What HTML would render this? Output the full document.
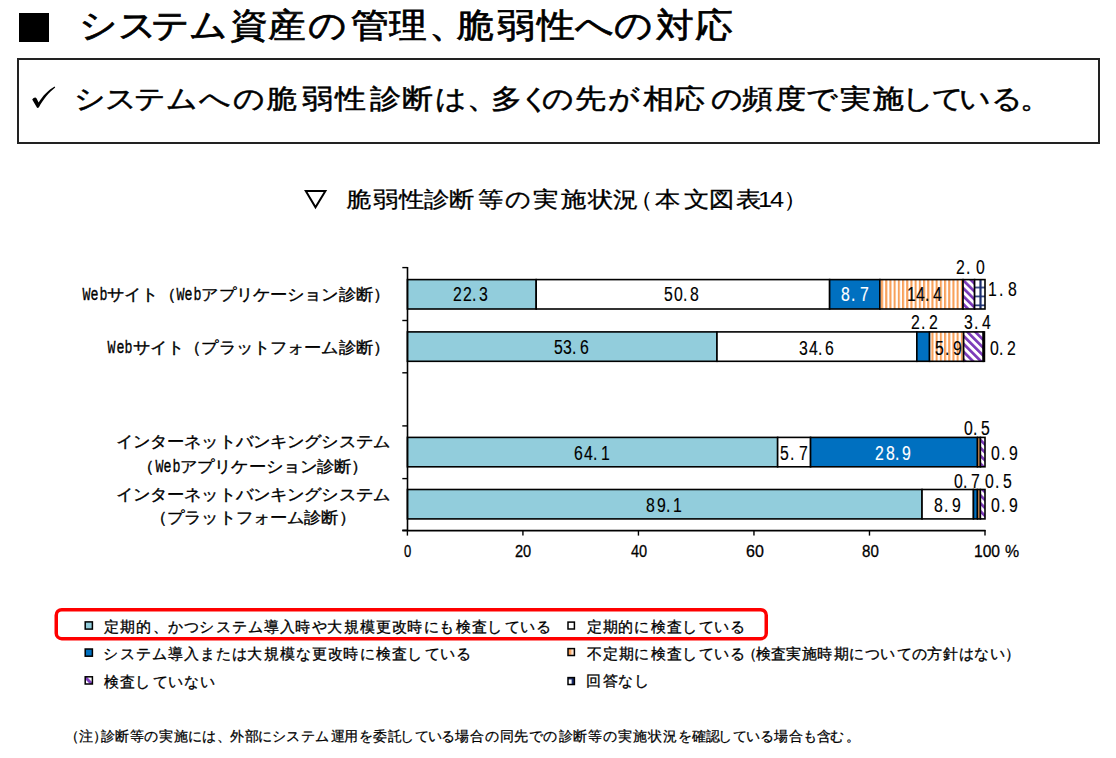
<!DOCTYPE html>
<html lang="ja">
<head>
<meta charset="utf-8">
<style>
html,body{margin:0;padding:0;background:#fff;}
body{width:1116px;height:758px;position:relative;overflow:hidden;font-family:"Liberation Sans",sans-serif;color:#000;}
</style>
</head>
<body>
<svg style="position:absolute;left:0;top:0" width="1116" height="758" viewBox="0 0 1116 758">
<defs>
<pattern id="pOr" patternUnits="userSpaceOnUse" x="881" y="0" width="4.2" height="10">
<rect width="4.2" height="10" fill="#fff"/><rect x="0" width="2.1" height="10" fill="#F8A15B"/>
</pattern>
<pattern id="pPu" patternUnits="userSpaceOnUse" width="5.6" height="10" patternTransform="rotate(-45)">
<rect width="5.6" height="10" fill="#fff"/><rect x="0" width="2.7" height="10" fill="#7A38B8"/>
</pattern>
<pattern id="pNv" patternUnits="userSpaceOnUse" x="976" y="279.5" width="9" height="8.9">
<rect width="9" height="8.9" fill="#fff"/><rect x="3.4" width="2.2" height="8.9" fill="#1C2E70"/><rect y="7.3" width="9" height="2.2" fill="#1C2E70"/>
</pattern>
<pattern id="lPu" patternUnits="userSpaceOnUse" x="84" y="676" width="8" height="8">
<rect width="8" height="8" fill="#fff"/><path d="M0,0 L8,8" stroke="#7F3FBF" stroke-width="3"/>
</pattern>
<pattern id="lNv" patternUnits="userSpaceOnUse" x="568" y="677.6" width="6.4" height="6.9">
<rect width="6.4" height="6.9" fill="#fff"/><rect x="3.6" width="2.8" height="6.9" fill="#1C2E70"/><rect y="0" width="6.4" height="1.8" fill="#1C2E70"/>
</pattern>
<pattern id="lOr" patternUnits="userSpaceOnUse" x="568" y="648.6" width="6.4" height="6.9">
<rect width="6.4" height="6.9" fill="#FDE3CF"/><rect x="0" width="3.2" height="6.9" fill="#F8A15B"/>
</pattern>
</defs>
<!-- title square -->
<rect x="19" y="13" width="30" height="29" fill="#000"/>
<!-- lead box -->
<rect x="18" y="59" width="1081" height="84" fill="none" stroke="#222" stroke-width="2"/>
<!-- check mark -->
<path d="M32.2,99.6 C33.6,97.6 35.6,96.8 36.6,98.6 L38.6,102.6 C42.4,96 48.4,90 54.6,86.4 L55.2,87.6 C49,92.4 43,99.6 38.8,107.6 L37.2,107.9 Z" fill="#000"/>
<!-- triangle -->
<polygon points="305.8,191 325.4,191 315.5,207.3" fill="none" stroke="#000" stroke-width="2"/>
<g stroke="#000" stroke-width="1.6">
<rect x="407.40" y="279.60" width="128.80" height="29.40" fill="#92CDDC"/>
<rect x="536.20" y="279.60" width="293.42" height="29.40" fill="#fff"/>
<rect x="829.63" y="279.60" width="50.25" height="29.40" fill="#0070C0"/>
<rect x="879.88" y="279.60" width="83.17" height="29.40" fill="url(#pOr)"/>
<rect x="963.05" y="279.60" width="11.55" height="29.40" fill="url(#pPu)"/>
<rect x="974.60" y="279.60" width="10.40" height="29.40" fill="url(#pNv)"/>
<rect x="407.40" y="331.90" width="309.59" height="29.40" fill="#92CDDC"/>
<rect x="716.99" y="331.90" width="199.85" height="29.40" fill="#fff"/>
<rect x="916.84" y="331.90" width="12.71" height="29.40" fill="#0070C0"/>
<rect x="929.55" y="331.90" width="34.08" height="29.40" fill="url(#pOr)"/>
<rect x="963.63" y="331.90" width="19.64" height="29.40" fill="url(#pPu)"/>
<rect x="983.27" y="331.90" width="1.16" height="29.40" fill="url(#pNv)"/>
<rect x="407.40" y="437.40" width="370.24" height="29.40" fill="#92CDDC"/>
<rect x="777.64" y="437.40" width="32.92" height="29.40" fill="#fff"/>
<rect x="810.56" y="437.40" width="166.93" height="29.40" fill="#0070C0"/>
<rect x="977.49" y="437.40" width="2.89" height="29.40" fill="url(#pOr)"/>
<rect x="980.38" y="437.40" width="4.62" height="29.40" fill="url(#pPu)"/>
<rect x="407.40" y="489.50" width="514.64" height="29.40" fill="#92CDDC"/>
<rect x="922.04" y="489.50" width="51.41" height="29.40" fill="#fff"/>
<rect x="973.45" y="489.50" width="4.04" height="29.40" fill="#0070C0"/>
<rect x="977.49" y="489.50" width="2.89" height="29.40" fill="url(#pOr)"/>
<rect x="980.38" y="489.50" width="4.62" height="29.40" fill="url(#pPu)"/>
</g>
<g stroke="#000" stroke-width="1.6" fill="none">
<line x1="407.5" y1="267" x2="407.5" y2="531"/>
<line x1="402.3" y1="530.6" x2="985.5" y2="530.6"/>
</g>
<g stroke="#000" stroke-width="1.4">
<line x1="402.3" x2="407.5" y1="267.6" y2="267.6"/>
<line x1="402.3" x2="407.5" y1="320.5" y2="320.5"/>
<line x1="402.3" x2="407.5" y1="372.8" y2="372.8"/>
<line x1="402.3" x2="407.5" y1="425.9" y2="425.9"/>
<line x1="402.3" x2="407.5" y1="478.6" y2="478.6"/>
<line x1="402.3" x2="407.5" y1="530.3" y2="530.3"/>
<line x1="407.40" x2="407.40" y1="530" y2="535.6"/>
<line x1="522.92" x2="522.92" y1="530" y2="535.6"/>
<line x1="638.44" x2="638.44" y1="530" y2="535.6"/>
<line x1="753.96" x2="753.96" y1="530" y2="535.6"/>
<line x1="869.48" x2="869.48" y1="530" y2="535.6"/>
<line x1="985.00" x2="985.00" y1="530" y2="535.6"/>
</g>
<!-- legend -->
<rect x="56.25" y="609.75" width="710" height="28.9" rx="5.5" ry="5.5" fill="none" stroke="#FF0000" stroke-width="3.5"/>
<g stroke="#000" stroke-width="1.5">
<rect x="85.2" y="621.9" width="7.2" height="7.2" fill="#92CDDC"/>
<rect x="85.2" y="649" width="7.2" height="7.2" fill="#0070C0"/>
<rect x="85.2" y="676.8" width="7.2" height="7.2" fill="url(#lPu)"/>
<rect x="568" y="622.1" width="6.4" height="6.9" fill="#fff"/>
<rect x="568" y="648.6" width="6.4" height="6.9" fill="url(#lOr)"/>
<rect x="568" y="677.6" width="6.4" height="6.9" fill="url(#lNv)"/>
</g>
</svg>
<div style="position:absolute;left:78.70px;top:8.00px;font-size:34.23px;font-family:'Liberation Sans',sans-serif;color:#000;white-space:nowrap;line-height:1;-webkit-text-stroke:0.7px #000;transform:scaleX(1.1137);transform-origin:0 0;">シ</div>
<div style="position:absolute;left:117.70px;top:8.00px;font-size:34.23px;font-family:'Liberation Sans',sans-serif;color:#000;white-space:nowrap;line-height:1;-webkit-text-stroke:0.7px #000;transform:scaleX(1.1137);transform-origin:0 0;">ス</div>
<div style="position:absolute;left:151.20px;top:8.00px;font-size:34.23px;font-family:'Liberation Sans',sans-serif;color:#000;white-space:nowrap;line-height:1;-webkit-text-stroke:0.7px #000;transform:scaleX(1.1137);transform-origin:0 0;">テ</div>
<div style="position:absolute;left:188.90px;top:8.00px;font-size:34.23px;font-family:'Liberation Sans',sans-serif;color:#000;white-space:nowrap;line-height:1;-webkit-text-stroke:0.7px #000;transform:scaleX(1.1137);transform-origin:0 0;">ム</div>
<div style="position:absolute;left:230.00px;top:8.00px;font-size:34.23px;font-family:'Liberation Sans',sans-serif;color:#000;white-space:nowrap;line-height:1;-webkit-text-stroke:0.7px #000;transform:scaleX(1.1137);transform-origin:0 0;">資</div>
<div style="position:absolute;left:268.10px;top:8.00px;font-size:34.23px;font-family:'Liberation Sans',sans-serif;color:#000;white-space:nowrap;line-height:1;-webkit-text-stroke:0.7px #000;transform:scaleX(1.1137);transform-origin:0 0;">産</div>
<div style="position:absolute;left:307.90px;top:8.00px;font-size:34.23px;font-family:'Liberation Sans',sans-serif;color:#000;white-space:nowrap;line-height:1;-webkit-text-stroke:0.7px #000;transform:scaleX(1.1137);transform-origin:0 0;">の</div>
<div style="position:absolute;left:350.90px;top:8.00px;font-size:34.23px;font-family:'Liberation Sans',sans-serif;color:#000;white-space:nowrap;line-height:1;-webkit-text-stroke:0.7px #000;transform:scaleX(1.1137);transform-origin:0 0;">管</div>
<div style="position:absolute;left:388.50px;top:8.00px;font-size:34.23px;font-family:'Liberation Sans',sans-serif;color:#000;white-space:nowrap;line-height:1;-webkit-text-stroke:0.7px #000;transform:scaleX(1.1137);transform-origin:0 0;">理</div>
<div style="position:absolute;left:428.60px;top:8.00px;font-size:34.23px;font-family:'Liberation Sans',sans-serif;color:#000;white-space:nowrap;line-height:1;-webkit-text-stroke:0.7px #000;transform:scaleX(1.1137);transform-origin:0 0;">、</div>
<div style="position:absolute;left:455.70px;top:8.00px;font-size:34.23px;font-family:'Liberation Sans',sans-serif;color:#000;white-space:nowrap;line-height:1;-webkit-text-stroke:0.7px #000;transform:scaleX(1.1137);transform-origin:0 0;">脆</div>
<div style="position:absolute;left:497.00px;top:8.00px;font-size:34.23px;font-family:'Liberation Sans',sans-serif;color:#000;white-space:nowrap;line-height:1;-webkit-text-stroke:0.7px #000;transform:scaleX(1.1137);transform-origin:0 0;">弱</div>
<div style="position:absolute;left:536.50px;top:8.00px;font-size:34.23px;font-family:'Liberation Sans',sans-serif;color:#000;white-space:nowrap;line-height:1;-webkit-text-stroke:0.7px #000;transform:scaleX(1.1137);transform-origin:0 0;">性</div>
<div style="position:absolute;left:574.50px;top:8.00px;font-size:34.23px;font-family:'Liberation Sans',sans-serif;color:#000;white-space:nowrap;line-height:1;-webkit-text-stroke:0.7px #000;transform:scaleX(1.1137);transform-origin:0 0;">へ</div>
<div style="position:absolute;left:614.20px;top:8.00px;font-size:34.23px;font-family:'Liberation Sans',sans-serif;color:#000;white-space:nowrap;line-height:1;-webkit-text-stroke:0.7px #000;transform:scaleX(1.1137);transform-origin:0 0;">の</div>
<div style="position:absolute;left:656.30px;top:8.00px;font-size:34.23px;font-family:'Liberation Sans',sans-serif;color:#000;white-space:nowrap;line-height:1;-webkit-text-stroke:0.7px #000;transform:scaleX(1.1137);transform-origin:0 0;">対</div>
<div style="position:absolute;left:695.30px;top:8.00px;font-size:34.23px;font-family:'Liberation Sans',sans-serif;color:#000;white-space:nowrap;line-height:1;-webkit-text-stroke:0.7px #000;transform:scaleX(1.1137);transform-origin:0 0;">応</div>
<div style="position:absolute;left:74.20px;top:85.00px;font-size:27.12px;font-family:'Liberation Sans',sans-serif;color:#000;white-space:nowrap;line-height:1;-webkit-text-stroke:0.5px #000;transform:scaleX(1.1489);transform-origin:0 0;">シ</div>
<div style="position:absolute;left:105.20px;top:85.00px;font-size:27.12px;font-family:'Liberation Sans',sans-serif;color:#000;white-space:nowrap;line-height:1;-webkit-text-stroke:0.5px #000;transform:scaleX(1.1489);transform-origin:0 0;">ス</div>
<div style="position:absolute;left:134.30px;top:85.00px;font-size:27.12px;font-family:'Liberation Sans',sans-serif;color:#000;white-space:nowrap;line-height:1;-webkit-text-stroke:0.5px #000;transform:scaleX(1.1489);transform-origin:0 0;">テ</div>
<div style="position:absolute;left:166.10px;top:85.00px;font-size:27.12px;font-family:'Liberation Sans',sans-serif;color:#000;white-space:nowrap;line-height:1;-webkit-text-stroke:0.5px #000;transform:scaleX(1.1489);transform-origin:0 0;">ム</div>
<div style="position:absolute;left:198.80px;top:85.00px;font-size:27.12px;font-family:'Liberation Sans',sans-serif;color:#000;white-space:nowrap;line-height:1;-webkit-text-stroke:0.5px #000;transform:scaleX(1.1489);transform-origin:0 0;">へ</div>
<div style="position:absolute;left:233.30px;top:85.00px;font-size:27.12px;font-family:'Liberation Sans',sans-serif;color:#000;white-space:nowrap;line-height:1;-webkit-text-stroke:0.5px #000;transform:scaleX(1.1489);transform-origin:0 0;">の</div>
<div style="position:absolute;left:266.10px;top:85.00px;font-size:27.12px;font-family:'Liberation Sans',sans-serif;color:#000;white-space:nowrap;line-height:1;-webkit-text-stroke:0.5px #000;transform:scaleX(1.1489);transform-origin:0 0;">脆</div>
<div style="position:absolute;left:301.80px;top:85.00px;font-size:27.12px;font-family:'Liberation Sans',sans-serif;color:#000;white-space:nowrap;line-height:1;-webkit-text-stroke:0.5px #000;transform:scaleX(1.1489);transform-origin:0 0;">弱</div>
<div style="position:absolute;left:335.30px;top:85.00px;font-size:27.12px;font-family:'Liberation Sans',sans-serif;color:#000;white-space:nowrap;line-height:1;-webkit-text-stroke:0.5px #000;transform:scaleX(1.1489);transform-origin:0 0;">性</div>
<div style="position:absolute;left:369.60px;top:85.00px;font-size:27.12px;font-family:'Liberation Sans',sans-serif;color:#000;white-space:nowrap;line-height:1;-webkit-text-stroke:0.5px #000;transform:scaleX(1.1489);transform-origin:0 0;">診</div>
<div style="position:absolute;left:402.10px;top:85.00px;font-size:27.12px;font-family:'Liberation Sans',sans-serif;color:#000;white-space:nowrap;line-height:1;-webkit-text-stroke:0.5px #000;transform:scaleX(1.1489);transform-origin:0 0;">断</div>
<div style="position:absolute;left:435.10px;top:85.00px;font-size:27.12px;font-family:'Liberation Sans',sans-serif;color:#000;white-space:nowrap;line-height:1;-webkit-text-stroke:0.5px #000;transform:scaleX(1.1489);transform-origin:0 0;">は</div>
<div style="position:absolute;left:466.90px;top:85.00px;font-size:27.12px;font-family:'Liberation Sans',sans-serif;color:#000;white-space:nowrap;line-height:1;-webkit-text-stroke:0.5px #000;transform:scaleX(1.1489);transform-origin:0 0;">、</div>
<div style="position:absolute;left:490.90px;top:85.00px;font-size:27.12px;font-family:'Liberation Sans',sans-serif;color:#000;white-space:nowrap;line-height:1;-webkit-text-stroke:0.5px #000;transform:scaleX(1.1489);transform-origin:0 0;">多</div>
<div style="position:absolute;left:519.40px;top:85.00px;font-size:27.12px;font-family:'Liberation Sans',sans-serif;color:#000;white-space:nowrap;line-height:1;-webkit-text-stroke:0.5px #000;transform:scaleX(1.1489);transform-origin:0 0;">く</div>
<div style="position:absolute;left:541.90px;top:85.00px;font-size:27.12px;font-family:'Liberation Sans',sans-serif;color:#000;white-space:nowrap;line-height:1;-webkit-text-stroke:0.5px #000;transform:scaleX(1.1489);transform-origin:0 0;">の</div>
<div style="position:absolute;left:575.00px;top:85.00px;font-size:27.12px;font-family:'Liberation Sans',sans-serif;color:#000;white-space:nowrap;line-height:1;-webkit-text-stroke:0.5px #000;transform:scaleX(1.1489);transform-origin:0 0;">先</div>
<div style="position:absolute;left:607.50px;top:85.00px;font-size:27.12px;font-family:'Liberation Sans',sans-serif;color:#000;white-space:nowrap;line-height:1;-webkit-text-stroke:0.5px #000;transform:scaleX(1.1489);transform-origin:0 0;">が</div>
<div style="position:absolute;left:643.10px;top:85.00px;font-size:27.12px;font-family:'Liberation Sans',sans-serif;color:#000;white-space:nowrap;line-height:1;-webkit-text-stroke:0.5px #000;transform:scaleX(1.1489);transform-origin:0 0;">相</div>
<div style="position:absolute;left:674.30px;top:85.00px;font-size:27.12px;font-family:'Liberation Sans',sans-serif;color:#000;white-space:nowrap;line-height:1;-webkit-text-stroke:0.5px #000;transform:scaleX(1.1489);transform-origin:0 0;">応</div>
<div style="position:absolute;left:710.60px;top:85.00px;font-size:27.12px;font-family:'Liberation Sans',sans-serif;color:#000;white-space:nowrap;line-height:1;-webkit-text-stroke:0.5px #000;transform:scaleX(1.1489);transform-origin:0 0;">の</div>
<div style="position:absolute;left:742.00px;top:85.00px;font-size:27.12px;font-family:'Liberation Sans',sans-serif;color:#000;white-space:nowrap;line-height:1;-webkit-text-stroke:0.5px #000;transform:scaleX(1.1489);transform-origin:0 0;">頻</div>
<div style="position:absolute;left:775.00px;top:85.00px;font-size:27.12px;font-family:'Liberation Sans',sans-serif;color:#000;white-space:nowrap;line-height:1;-webkit-text-stroke:0.5px #000;transform:scaleX(1.1489);transform-origin:0 0;">度</div>
<div style="position:absolute;left:805.50px;top:85.00px;font-size:27.12px;font-family:'Liberation Sans',sans-serif;color:#000;white-space:nowrap;line-height:1;-webkit-text-stroke:0.5px #000;transform:scaleX(1.1489);transform-origin:0 0;">で</div>
<div style="position:absolute;left:839.50px;top:85.00px;font-size:27.12px;font-family:'Liberation Sans',sans-serif;color:#000;white-space:nowrap;line-height:1;-webkit-text-stroke:0.5px #000;transform:scaleX(1.1489);transform-origin:0 0;">実</div>
<div style="position:absolute;left:873.00px;top:85.00px;font-size:27.12px;font-family:'Liberation Sans',sans-serif;color:#000;white-space:nowrap;line-height:1;-webkit-text-stroke:0.5px #000;transform:scaleX(1.1489);transform-origin:0 0;">施</div>
<div style="position:absolute;left:901.60px;top:85.00px;font-size:27.12px;font-family:'Liberation Sans',sans-serif;color:#000;white-space:nowrap;line-height:1;-webkit-text-stroke:0.5px #000;transform:scaleX(1.1489);transform-origin:0 0;">し</div>
<div style="position:absolute;left:931.80px;top:85.00px;font-size:27.12px;font-family:'Liberation Sans',sans-serif;color:#000;white-space:nowrap;line-height:1;-webkit-text-stroke:0.5px #000;transform:scaleX(1.1489);transform-origin:0 0;">て</div>
<div style="position:absolute;left:959.20px;top:85.00px;font-size:27.12px;font-family:'Liberation Sans',sans-serif;color:#000;white-space:nowrap;line-height:1;-webkit-text-stroke:0.5px #000;transform:scaleX(1.1489);transform-origin:0 0;">い</div>
<div style="position:absolute;left:990.50px;top:85.00px;font-size:27.12px;font-family:'Liberation Sans',sans-serif;color:#000;white-space:nowrap;line-height:1;-webkit-text-stroke:0.5px #000;transform:scaleX(1.1489);transform-origin:0 0;">る</div>
<div style="position:absolute;left:1019.80px;top:85.00px;font-size:27.12px;font-family:'Liberation Sans',sans-serif;color:#000;white-space:nowrap;line-height:1;-webkit-text-stroke:0.5px #000;transform:scaleX(1.1489);transform-origin:0 0;">。</div>
<div style="position:absolute;left:346.40px;top:189.00px;font-size:22.08px;font-family:'Liberation Sans',sans-serif;color:#000;white-space:nowrap;line-height:1;-webkit-text-stroke:0.3px #000;transform:scaleX(1.1500);transform-origin:0 0;">脆</div>
<div style="position:absolute;left:372.70px;top:189.00px;font-size:22.08px;font-family:'Liberation Sans',sans-serif;color:#000;white-space:nowrap;line-height:1;-webkit-text-stroke:0.3px #000;transform:scaleX(1.1500);transform-origin:0 0;">弱</div>
<div style="position:absolute;left:399.00px;top:189.00px;font-size:22.08px;font-family:'Liberation Sans',sans-serif;color:#000;white-space:nowrap;line-height:1;-webkit-text-stroke:0.3px #000;transform:scaleX(1.1500);transform-origin:0 0;">性</div>
<div style="position:absolute;left:424.30px;top:189.00px;font-size:22.08px;font-family:'Liberation Sans',sans-serif;color:#000;white-space:nowrap;line-height:1;-webkit-text-stroke:0.3px #000;transform:scaleX(1.1500);transform-origin:0 0;">診</div>
<div style="position:absolute;left:449.00px;top:189.00px;font-size:22.08px;font-family:'Liberation Sans',sans-serif;color:#000;white-space:nowrap;line-height:1;-webkit-text-stroke:0.3px #000;transform:scaleX(1.1500);transform-origin:0 0;">断</div>
<div style="position:absolute;left:477.50px;top:189.00px;font-size:22.08px;font-family:'Liberation Sans',sans-serif;color:#000;white-space:nowrap;line-height:1;-webkit-text-stroke:0.3px #000;transform:scaleX(1.1500);transform-origin:0 0;">等</div>
<div style="position:absolute;left:505.40px;top:189.00px;font-size:22.08px;font-family:'Liberation Sans',sans-serif;color:#000;white-space:nowrap;line-height:1;-webkit-text-stroke:0.3px #000;transform:scaleX(1.1500);transform-origin:0 0;">の</div>
<div style="position:absolute;left:532.80px;top:189.00px;font-size:22.08px;font-family:'Liberation Sans',sans-serif;color:#000;white-space:nowrap;line-height:1;-webkit-text-stroke:0.3px #000;transform:scaleX(1.1500);transform-origin:0 0;">実</div>
<div style="position:absolute;left:560.60px;top:189.00px;font-size:22.08px;font-family:'Liberation Sans',sans-serif;color:#000;white-space:nowrap;line-height:1;-webkit-text-stroke:0.3px #000;transform:scaleX(1.1500);transform-origin:0 0;">施</div>
<div style="position:absolute;left:587.50px;top:189.00px;font-size:22.08px;font-family:'Liberation Sans',sans-serif;color:#000;white-space:nowrap;line-height:1;-webkit-text-stroke:0.3px #000;transform:scaleX(1.1500);transform-origin:0 0;">状</div>
<div style="position:absolute;left:613.30px;top:189.00px;font-size:22.08px;font-family:'Liberation Sans',sans-serif;color:#000;white-space:nowrap;line-height:1;-webkit-text-stroke:0.3px #000;transform:scaleX(1.1500);transform-origin:0 0;">況</div>
<div style="position:absolute;left:628.20px;top:189.00px;font-size:22.08px;font-family:'Liberation Sans',sans-serif;color:#000;white-space:nowrap;line-height:1;transform:scaleX(1.1500);transform-origin:0 0;">（</div>
<div style="position:absolute;left:655.00px;top:189.00px;font-size:22.08px;font-family:'Liberation Sans',sans-serif;color:#000;white-space:nowrap;line-height:1;-webkit-text-stroke:0.3px #000;transform:scaleX(1.1500);transform-origin:0 0;">本</div>
<div style="position:absolute;left:683.50px;top:189.00px;font-size:22.08px;font-family:'Liberation Sans',sans-serif;color:#000;white-space:nowrap;line-height:1;-webkit-text-stroke:0.3px #000;transform:scaleX(1.1500);transform-origin:0 0;">文</div>
<div style="position:absolute;left:709.40px;top:189.00px;font-size:22.08px;font-family:'Liberation Sans',sans-serif;color:#000;white-space:nowrap;line-height:1;-webkit-text-stroke:0.3px #000;transform:scaleX(1.1500);transform-origin:0 0;">図</div>
<div style="position:absolute;left:735.60px;top:189.00px;font-size:22.08px;font-family:'Liberation Sans',sans-serif;color:#000;white-space:nowrap;line-height:1;-webkit-text-stroke:0.3px #000;transform:scaleX(1.1500);transform-origin:0 0;">表</div>
<div style="position:absolute;left:758.30px;top:189.00px;font-size:22.08px;font-family:'Liberation Sans',sans-serif;color:#000;white-space:nowrap;line-height:1;transform:scaleX(1.1500);transform-origin:0 0;">1</div>
<div style="position:absolute;left:770.20px;top:189.00px;font-size:22.08px;font-family:'Liberation Sans',sans-serif;color:#000;white-space:nowrap;line-height:1;transform:scaleX(1.1500);transform-origin:0 0;">4</div>
<div style="position:absolute;left:783.40px;top:189.00px;font-size:22.08px;font-family:'Liberation Sans',sans-serif;color:#000;white-space:nowrap;line-height:1;transform:scaleX(1.1500);transform-origin:0 0;">）</div>
<div style="position:absolute;left:81.90px;top:287.35px;font-size:15.50px;font-family:'Liberation Sans',sans-serif;color:#000;white-space:nowrap;line-height:1;-webkit-text-stroke:0.35px #000;"><span style="display:inline-flex;justify-content:center;width:8.575px;white-space:nowrap;"><span style="display:inline-block;font-family:'Liberation Mono',monospace;font-size:18.5px;transform:scaleX(0.72);">W</span></span><span style="display:inline-flex;justify-content:center;width:8.575px;white-space:nowrap;"><span style="display:inline-block;font-family:'Liberation Mono',monospace;font-size:18.5px;transform:scaleX(0.72);">e</span></span><span style="display:inline-flex;justify-content:center;width:8.575px;white-space:nowrap;"><span style="display:inline-block;font-family:'Liberation Mono',monospace;font-size:18.5px;transform:scaleX(0.72);">b</span></span><span style="display:inline-flex;justify-content:center;width:17.150px;"><span style="display:inline-block;transform:scaleX(1.08);">サ</span></span><span style="display:inline-flex;justify-content:center;width:17.150px;"><span style="display:inline-block;transform:scaleX(1.08);">イ</span></span><span style="display:inline-flex;justify-content:center;width:17.150px;"><span style="display:inline-block;transform:scaleX(1.08);">ト</span></span><span style="display:inline-flex;justify-content:center;width:17.150px;"><span style="display:inline-block;transform:scaleX(1.08);">（</span></span><span style="display:inline-flex;justify-content:center;width:8.575px;white-space:nowrap;"><span style="display:inline-block;font-family:'Liberation Mono',monospace;font-size:18.5px;transform:scaleX(0.72);">W</span></span><span style="display:inline-flex;justify-content:center;width:8.575px;white-space:nowrap;"><span style="display:inline-block;font-family:'Liberation Mono',monospace;font-size:18.5px;transform:scaleX(0.72);">e</span></span><span style="display:inline-flex;justify-content:center;width:8.575px;white-space:nowrap;"><span style="display:inline-block;font-family:'Liberation Mono',monospace;font-size:18.5px;transform:scaleX(0.72);">b</span></span><span style="display:inline-flex;justify-content:center;width:17.150px;"><span style="display:inline-block;transform:scaleX(1.08);">ア</span></span><span style="display:inline-flex;justify-content:center;width:17.150px;"><span style="display:inline-block;transform:scaleX(1.08);">プ</span></span><span style="display:inline-flex;justify-content:center;width:17.150px;"><span style="display:inline-block;transform:scaleX(1.08);">リ</span></span><span style="display:inline-flex;justify-content:center;width:17.150px;"><span style="display:inline-block;transform:scaleX(1.08);">ケ</span></span><span style="display:inline-flex;justify-content:center;width:17.150px;"><span style="display:inline-block;transform:scaleX(1.08);">ー</span></span><span style="display:inline-flex;justify-content:center;width:17.150px;"><span style="display:inline-block;transform:scaleX(1.08);">シ</span></span><span style="display:inline-flex;justify-content:center;width:17.150px;"><span style="display:inline-block;transform:scaleX(1.08);">ョ</span></span><span style="display:inline-flex;justify-content:center;width:17.150px;"><span style="display:inline-block;transform:scaleX(1.08);">ン</span></span><span style="display:inline-flex;justify-content:center;width:17.150px;"><span style="display:inline-block;transform:scaleX(1.08);">診</span></span><span style="display:inline-flex;justify-content:center;width:17.150px;"><span style="display:inline-block;transform:scaleX(1.08);">断</span></span><span style="display:inline-flex;justify-content:center;width:17.150px;"><span style="display:inline-block;transform:scaleX(1.08);">）</span></span></div>
<div style="position:absolute;left:107.63px;top:340.25px;font-size:15.50px;font-family:'Liberation Sans',sans-serif;color:#000;white-space:nowrap;line-height:1;-webkit-text-stroke:0.35px #000;"><span style="display:inline-flex;justify-content:center;width:8.575px;white-space:nowrap;"><span style="display:inline-block;font-family:'Liberation Mono',monospace;font-size:18.5px;transform:scaleX(0.72);">W</span></span><span style="display:inline-flex;justify-content:center;width:8.575px;white-space:nowrap;"><span style="display:inline-block;font-family:'Liberation Mono',monospace;font-size:18.5px;transform:scaleX(0.72);">e</span></span><span style="display:inline-flex;justify-content:center;width:8.575px;white-space:nowrap;"><span style="display:inline-block;font-family:'Liberation Mono',monospace;font-size:18.5px;transform:scaleX(0.72);">b</span></span><span style="display:inline-flex;justify-content:center;width:17.150px;"><span style="display:inline-block;transform:scaleX(1.08);">サ</span></span><span style="display:inline-flex;justify-content:center;width:17.150px;"><span style="display:inline-block;transform:scaleX(1.08);">イ</span></span><span style="display:inline-flex;justify-content:center;width:17.150px;"><span style="display:inline-block;transform:scaleX(1.08);">ト</span></span><span style="display:inline-flex;justify-content:center;width:17.150px;"><span style="display:inline-block;transform:scaleX(1.08);">（</span></span><span style="display:inline-flex;justify-content:center;width:17.150px;"><span style="display:inline-block;transform:scaleX(1.08);">プ</span></span><span style="display:inline-flex;justify-content:center;width:17.150px;"><span style="display:inline-block;transform:scaleX(1.08);">ラ</span></span><span style="display:inline-flex;justify-content:center;width:17.150px;"><span style="display:inline-block;transform:scaleX(1.08);">ッ</span></span><span style="display:inline-flex;justify-content:center;width:17.150px;"><span style="display:inline-block;transform:scaleX(1.08);">ト</span></span><span style="display:inline-flex;justify-content:center;width:17.150px;"><span style="display:inline-block;transform:scaleX(1.08);">フ</span></span><span style="display:inline-flex;justify-content:center;width:17.150px;"><span style="display:inline-block;transform:scaleX(1.08);">ォ</span></span><span style="display:inline-flex;justify-content:center;width:17.150px;"><span style="display:inline-block;transform:scaleX(1.08);">ー</span></span><span style="display:inline-flex;justify-content:center;width:17.150px;"><span style="display:inline-block;transform:scaleX(1.08);">ム</span></span><span style="display:inline-flex;justify-content:center;width:17.150px;"><span style="display:inline-block;transform:scaleX(1.08);">診</span></span><span style="display:inline-flex;justify-content:center;width:17.150px;"><span style="display:inline-block;transform:scaleX(1.08);">断</span></span><span style="display:inline-flex;justify-content:center;width:17.150px;"><span style="display:inline-block;transform:scaleX(1.08);">）</span></span></div>
<div style="position:absolute;left:116.20px;top:433.95px;font-size:15.50px;font-family:'Liberation Sans',sans-serif;color:#000;white-space:nowrap;line-height:1;-webkit-text-stroke:0.35px #000;"><span style="display:inline-flex;justify-content:center;width:17.150px;"><span style="display:inline-block;transform:scaleX(1.08);">イ</span></span><span style="display:inline-flex;justify-content:center;width:17.150px;"><span style="display:inline-block;transform:scaleX(1.08);">ン</span></span><span style="display:inline-flex;justify-content:center;width:17.150px;"><span style="display:inline-block;transform:scaleX(1.08);">タ</span></span><span style="display:inline-flex;justify-content:center;width:17.150px;"><span style="display:inline-block;transform:scaleX(1.08);">ー</span></span><span style="display:inline-flex;justify-content:center;width:17.150px;"><span style="display:inline-block;transform:scaleX(1.08);">ネ</span></span><span style="display:inline-flex;justify-content:center;width:17.150px;"><span style="display:inline-block;transform:scaleX(1.08);">ッ</span></span><span style="display:inline-flex;justify-content:center;width:17.150px;"><span style="display:inline-block;transform:scaleX(1.08);">ト</span></span><span style="display:inline-flex;justify-content:center;width:17.150px;"><span style="display:inline-block;transform:scaleX(1.08);">バ</span></span><span style="display:inline-flex;justify-content:center;width:17.150px;"><span style="display:inline-block;transform:scaleX(1.08);">ン</span></span><span style="display:inline-flex;justify-content:center;width:17.150px;"><span style="display:inline-block;transform:scaleX(1.08);">キ</span></span><span style="display:inline-flex;justify-content:center;width:17.150px;"><span style="display:inline-block;transform:scaleX(1.08);">ン</span></span><span style="display:inline-flex;justify-content:center;width:17.150px;"><span style="display:inline-block;transform:scaleX(1.08);">グ</span></span><span style="display:inline-flex;justify-content:center;width:17.150px;"><span style="display:inline-block;transform:scaleX(1.08);">シ</span></span><span style="display:inline-flex;justify-content:center;width:17.150px;"><span style="display:inline-block;transform:scaleX(1.08);">ス</span></span><span style="display:inline-flex;justify-content:center;width:17.150px;"><span style="display:inline-block;transform:scaleX(1.08);">テ</span></span><span style="display:inline-flex;justify-content:center;width:17.150px;"><span style="display:inline-block;transform:scaleX(1.08);">ム</span></span></div>
<div style="position:absolute;left:137.64px;top:458.50px;font-size:15.50px;font-family:'Liberation Sans',sans-serif;color:#000;white-space:nowrap;line-height:1;-webkit-text-stroke:0.35px #000;"><span style="display:inline-flex;justify-content:center;width:17.150px;"><span style="display:inline-block;transform:scaleX(1.08);">（</span></span><span style="display:inline-flex;justify-content:center;width:8.575px;white-space:nowrap;"><span style="display:inline-block;font-family:'Liberation Mono',monospace;font-size:18.5px;transform:scaleX(0.72);">W</span></span><span style="display:inline-flex;justify-content:center;width:8.575px;white-space:nowrap;"><span style="display:inline-block;font-family:'Liberation Mono',monospace;font-size:18.5px;transform:scaleX(0.72);">e</span></span><span style="display:inline-flex;justify-content:center;width:8.575px;white-space:nowrap;"><span style="display:inline-block;font-family:'Liberation Mono',monospace;font-size:18.5px;transform:scaleX(0.72);">b</span></span><span style="display:inline-flex;justify-content:center;width:17.150px;"><span style="display:inline-block;transform:scaleX(1.08);">ア</span></span><span style="display:inline-flex;justify-content:center;width:17.150px;"><span style="display:inline-block;transform:scaleX(1.08);">プ</span></span><span style="display:inline-flex;justify-content:center;width:17.150px;"><span style="display:inline-block;transform:scaleX(1.08);">リ</span></span><span style="display:inline-flex;justify-content:center;width:17.150px;"><span style="display:inline-block;transform:scaleX(1.08);">ケ</span></span><span style="display:inline-flex;justify-content:center;width:17.150px;"><span style="display:inline-block;transform:scaleX(1.08);">ー</span></span><span style="display:inline-flex;justify-content:center;width:17.150px;"><span style="display:inline-block;transform:scaleX(1.08);">シ</span></span><span style="display:inline-flex;justify-content:center;width:17.150px;"><span style="display:inline-block;transform:scaleX(1.08);">ョ</span></span><span style="display:inline-flex;justify-content:center;width:17.150px;"><span style="display:inline-block;transform:scaleX(1.08);">ン</span></span><span style="display:inline-flex;justify-content:center;width:17.150px;"><span style="display:inline-block;transform:scaleX(1.08);">診</span></span><span style="display:inline-flex;justify-content:center;width:17.150px;"><span style="display:inline-block;transform:scaleX(1.08);">断</span></span><span style="display:inline-flex;justify-content:center;width:17.150px;"><span style="display:inline-block;transform:scaleX(1.08);">）</span></span></div>
<div style="position:absolute;left:116.20px;top:486.90px;font-size:15.50px;font-family:'Liberation Sans',sans-serif;color:#000;white-space:nowrap;line-height:1;-webkit-text-stroke:0.35px #000;"><span style="display:inline-flex;justify-content:center;width:17.150px;"><span style="display:inline-block;transform:scaleX(1.08);">イ</span></span><span style="display:inline-flex;justify-content:center;width:17.150px;"><span style="display:inline-block;transform:scaleX(1.08);">ン</span></span><span style="display:inline-flex;justify-content:center;width:17.150px;"><span style="display:inline-block;transform:scaleX(1.08);">タ</span></span><span style="display:inline-flex;justify-content:center;width:17.150px;"><span style="display:inline-block;transform:scaleX(1.08);">ー</span></span><span style="display:inline-flex;justify-content:center;width:17.150px;"><span style="display:inline-block;transform:scaleX(1.08);">ネ</span></span><span style="display:inline-flex;justify-content:center;width:17.150px;"><span style="display:inline-block;transform:scaleX(1.08);">ッ</span></span><span style="display:inline-flex;justify-content:center;width:17.150px;"><span style="display:inline-block;transform:scaleX(1.08);">ト</span></span><span style="display:inline-flex;justify-content:center;width:17.150px;"><span style="display:inline-block;transform:scaleX(1.08);">バ</span></span><span style="display:inline-flex;justify-content:center;width:17.150px;"><span style="display:inline-block;transform:scaleX(1.08);">ン</span></span><span style="display:inline-flex;justify-content:center;width:17.150px;"><span style="display:inline-block;transform:scaleX(1.08);">キ</span></span><span style="display:inline-flex;justify-content:center;width:17.150px;"><span style="display:inline-block;transform:scaleX(1.08);">ン</span></span><span style="display:inline-flex;justify-content:center;width:17.150px;"><span style="display:inline-block;transform:scaleX(1.08);">グ</span></span><span style="display:inline-flex;justify-content:center;width:17.150px;"><span style="display:inline-block;transform:scaleX(1.08);">シ</span></span><span style="display:inline-flex;justify-content:center;width:17.150px;"><span style="display:inline-block;transform:scaleX(1.08);">ス</span></span><span style="display:inline-flex;justify-content:center;width:17.150px;"><span style="display:inline-block;transform:scaleX(1.08);">テ</span></span><span style="display:inline-flex;justify-content:center;width:17.150px;"><span style="display:inline-block;transform:scaleX(1.08);">ム</span></span></div>
<div style="position:absolute;left:150.50px;top:510.00px;font-size:15.50px;font-family:'Liberation Sans',sans-serif;color:#000;white-space:nowrap;line-height:1;-webkit-text-stroke:0.35px #000;"><span style="display:inline-flex;justify-content:center;width:17.150px;"><span style="display:inline-block;transform:scaleX(1.08);">（</span></span><span style="display:inline-flex;justify-content:center;width:17.150px;"><span style="display:inline-block;transform:scaleX(1.08);">プ</span></span><span style="display:inline-flex;justify-content:center;width:17.150px;"><span style="display:inline-block;transform:scaleX(1.08);">ラ</span></span><span style="display:inline-flex;justify-content:center;width:17.150px;"><span style="display:inline-block;transform:scaleX(1.08);">ッ</span></span><span style="display:inline-flex;justify-content:center;width:17.150px;"><span style="display:inline-block;transform:scaleX(1.08);">ト</span></span><span style="display:inline-flex;justify-content:center;width:17.150px;"><span style="display:inline-block;transform:scaleX(1.08);">フ</span></span><span style="display:inline-flex;justify-content:center;width:17.150px;"><span style="display:inline-block;transform:scaleX(1.08);">ォ</span></span><span style="display:inline-flex;justify-content:center;width:17.150px;"><span style="display:inline-block;transform:scaleX(1.08);">ー</span></span><span style="display:inline-flex;justify-content:center;width:17.150px;"><span style="display:inline-block;transform:scaleX(1.08);">ム</span></span><span style="display:inline-flex;justify-content:center;width:17.150px;"><span style="display:inline-block;transform:scaleX(1.08);">診</span></span><span style="display:inline-flex;justify-content:center;width:17.150px;"><span style="display:inline-block;transform:scaleX(1.08);">断</span></span><span style="display:inline-flex;justify-content:center;width:17.150px;"><span style="display:inline-block;transform:scaleX(1.08);">）</span></span></div>
<div style="position:absolute;left:453.00px;top:284.90px;font-size:19.30px;font-family:'Liberation Sans',sans-serif;color:#000;white-space:nowrap;line-height:1;-webkit-text-stroke:0.15px #000;transform:scaleX(0.8200);transform-origin:0 0;">2</div>
<div style="position:absolute;left:462.60px;top:284.90px;font-size:19.30px;font-family:'Liberation Sans',sans-serif;color:#000;white-space:nowrap;line-height:1;-webkit-text-stroke:0.15px #000;transform:scaleX(0.8200);transform-origin:0 0;">2</div>
<div style="position:absolute;left:471.70px;top:284.90px;font-size:19.30px;font-family:'Liberation Sans',sans-serif;color:#000;white-space:nowrap;line-height:1;-webkit-text-stroke:0.15px #000;transform:scaleX(0.8200);transform-origin:0 0;">.</div>
<div style="position:absolute;left:479.20px;top:284.90px;font-size:19.30px;font-family:'Liberation Sans',sans-serif;color:#000;white-space:nowrap;line-height:1;-webkit-text-stroke:0.15px #000;transform:scaleX(0.8200);transform-origin:0 0;">3</div>
<div style="position:absolute;left:663.70px;top:284.90px;font-size:19.30px;font-family:'Liberation Sans',sans-serif;color:#000;white-space:nowrap;line-height:1;-webkit-text-stroke:0.15px #000;transform:scaleX(0.8200);transform-origin:0 0;">5</div>
<div style="position:absolute;left:674.10px;top:284.90px;font-size:19.30px;font-family:'Liberation Sans',sans-serif;color:#000;white-space:nowrap;line-height:1;-webkit-text-stroke:0.15px #000;transform:scaleX(0.8200);transform-origin:0 0;">0</div>
<div style="position:absolute;left:682.70px;top:284.90px;font-size:19.30px;font-family:'Liberation Sans',sans-serif;color:#000;white-space:nowrap;line-height:1;-webkit-text-stroke:0.15px #000;transform:scaleX(0.8200);transform-origin:0 0;">.</div>
<div style="position:absolute;left:690.20px;top:284.90px;font-size:19.30px;font-family:'Liberation Sans',sans-serif;color:#000;white-space:nowrap;line-height:1;-webkit-text-stroke:0.15px #000;transform:scaleX(0.8200);transform-origin:0 0;">8</div>
<div style="position:absolute;left:840.50px;top:284.90px;font-size:19.30px;font-family:'Liberation Sans',sans-serif;color:#fff;white-space:nowrap;line-height:1;-webkit-text-stroke:0.15px #fff;transform:scaleX(0.8200);transform-origin:0 0;">8</div>
<div style="position:absolute;left:850.72px;top:284.90px;font-size:19.30px;font-family:'Liberation Sans',sans-serif;color:#fff;white-space:nowrap;line-height:1;-webkit-text-stroke:0.15px #fff;transform:scaleX(0.8200);transform-origin:0 0;">.</div>
<div style="position:absolute;left:859.80px;top:284.90px;font-size:19.30px;font-family:'Liberation Sans',sans-serif;color:#fff;white-space:nowrap;line-height:1;-webkit-text-stroke:0.15px #fff;transform:scaleX(0.8200);transform-origin:0 0;">7</div>
<div style="position:absolute;left:906.60px;top:284.90px;font-size:19.30px;font-family:'Liberation Sans',sans-serif;color:#000;white-space:nowrap;line-height:1;-webkit-text-stroke:0.15px #000;transform:scaleX(0.8200);transform-origin:0 0;">1</div>
<div style="position:absolute;left:916.10px;top:284.90px;font-size:19.30px;font-family:'Liberation Sans',sans-serif;color:#000;white-space:nowrap;line-height:1;-webkit-text-stroke:0.15px #000;transform:scaleX(0.8200);transform-origin:0 0;">4</div>
<div style="position:absolute;left:925.20px;top:284.90px;font-size:19.30px;font-family:'Liberation Sans',sans-serif;color:#000;white-space:nowrap;line-height:1;-webkit-text-stroke:0.15px #000;transform:scaleX(0.8200);transform-origin:0 0;">.</div>
<div style="position:absolute;left:932.70px;top:284.90px;font-size:19.30px;font-family:'Liberation Sans',sans-serif;color:#000;white-space:nowrap;line-height:1;-webkit-text-stroke:0.15px #000;transform:scaleX(0.8200);transform-origin:0 0;">4</div>
<div style="position:absolute;left:956.00px;top:258.25px;font-size:19.30px;font-family:'Liberation Sans',sans-serif;color:#000;white-space:nowrap;line-height:1;-webkit-text-stroke:0.15px #000;transform:scaleX(0.8200);transform-origin:0 0;">2</div>
<div style="position:absolute;left:966.48px;top:258.25px;font-size:19.30px;font-family:'Liberation Sans',sans-serif;color:#000;white-space:nowrap;line-height:1;-webkit-text-stroke:0.15px #000;transform:scaleX(0.8200);transform-origin:0 0;">.</div>
<div style="position:absolute;left:975.50px;top:258.25px;font-size:19.30px;font-family:'Liberation Sans',sans-serif;color:#000;white-space:nowrap;line-height:1;-webkit-text-stroke:0.15px #000;transform:scaleX(0.8200);transform-origin:0 0;">0</div>
<div style="position:absolute;left:988.40px;top:280.25px;font-size:19.30px;font-family:'Liberation Sans',sans-serif;color:#000;white-space:nowrap;line-height:1;-webkit-text-stroke:0.15px #000;transform:scaleX(0.8200);transform-origin:0 0;">1</div>
<div style="position:absolute;left:998.92px;top:280.25px;font-size:19.30px;font-family:'Liberation Sans',sans-serif;color:#000;white-space:nowrap;line-height:1;-webkit-text-stroke:0.15px #000;transform:scaleX(0.8200);transform-origin:0 0;">.</div>
<div style="position:absolute;left:1007.50px;top:280.25px;font-size:19.30px;font-family:'Liberation Sans',sans-serif;color:#000;white-space:nowrap;line-height:1;-webkit-text-stroke:0.15px #000;transform:scaleX(0.8200);transform-origin:0 0;">8</div>
<div style="position:absolute;left:553.70px;top:338.05px;font-size:19.30px;font-family:'Liberation Sans',sans-serif;color:#000;white-space:nowrap;line-height:1;-webkit-text-stroke:0.15px #000;transform:scaleX(0.8200);transform-origin:0 0;">5</div>
<div style="position:absolute;left:562.90px;top:338.05px;font-size:19.30px;font-family:'Liberation Sans',sans-serif;color:#000;white-space:nowrap;line-height:1;-webkit-text-stroke:0.15px #000;transform:scaleX(0.8200);transform-origin:0 0;">3</div>
<div style="position:absolute;left:572.00px;top:338.05px;font-size:19.30px;font-family:'Liberation Sans',sans-serif;color:#000;white-space:nowrap;line-height:1;-webkit-text-stroke:0.15px #000;transform:scaleX(0.8200);transform-origin:0 0;">.</div>
<div style="position:absolute;left:579.50px;top:338.05px;font-size:19.30px;font-family:'Liberation Sans',sans-serif;color:#000;white-space:nowrap;line-height:1;-webkit-text-stroke:0.15px #000;transform:scaleX(0.8200);transform-origin:0 0;">6</div>
<div style="position:absolute;left:798.90px;top:338.70px;font-size:19.30px;font-family:'Liberation Sans',sans-serif;color:#000;white-space:nowrap;line-height:1;-webkit-text-stroke:0.15px #000;transform:scaleX(0.8200);transform-origin:0 0;">3</div>
<div style="position:absolute;left:808.70px;top:338.70px;font-size:19.30px;font-family:'Liberation Sans',sans-serif;color:#000;white-space:nowrap;line-height:1;-webkit-text-stroke:0.15px #000;transform:scaleX(0.8200);transform-origin:0 0;">4</div>
<div style="position:absolute;left:817.80px;top:338.70px;font-size:19.30px;font-family:'Liberation Sans',sans-serif;color:#000;white-space:nowrap;line-height:1;-webkit-text-stroke:0.15px #000;transform:scaleX(0.8200);transform-origin:0 0;">.</div>
<div style="position:absolute;left:825.30px;top:338.70px;font-size:19.30px;font-family:'Liberation Sans',sans-serif;color:#000;white-space:nowrap;line-height:1;-webkit-text-stroke:0.15px #000;transform:scaleX(0.8200);transform-origin:0 0;">6</div>
<div style="position:absolute;left:911.00px;top:313.25px;font-size:19.30px;font-family:'Liberation Sans',sans-serif;color:#000;white-space:nowrap;line-height:1;-webkit-text-stroke:0.15px #000;transform:scaleX(0.8200);transform-origin:0 0;">2</div>
<div style="position:absolute;left:920.85px;top:313.25px;font-size:19.30px;font-family:'Liberation Sans',sans-serif;color:#000;white-space:nowrap;line-height:1;-webkit-text-stroke:0.15px #000;transform:scaleX(0.8200);transform-origin:0 0;">.</div>
<div style="position:absolute;left:928.50px;top:313.25px;font-size:19.30px;font-family:'Liberation Sans',sans-serif;color:#000;white-space:nowrap;line-height:1;-webkit-text-stroke:0.15px #000;transform:scaleX(0.8200);transform-origin:0 0;">2</div>
<div style="position:absolute;left:935.20px;top:339.15px;font-size:19.30px;font-family:'Liberation Sans',sans-serif;color:#000;white-space:nowrap;line-height:1;-webkit-text-stroke:0.15px #000;transform:scaleX(0.8200);transform-origin:0 0;">5</div>
<div style="position:absolute;left:944.74px;top:339.15px;font-size:19.30px;font-family:'Liberation Sans',sans-serif;color:#000;white-space:nowrap;line-height:1;-webkit-text-stroke:0.15px #000;transform:scaleX(0.8200);transform-origin:0 0;">.</div>
<div style="position:absolute;left:952.80px;top:339.15px;font-size:19.30px;font-family:'Liberation Sans',sans-serif;color:#000;white-space:nowrap;line-height:1;-webkit-text-stroke:0.15px #000;transform:scaleX(0.8200);transform-origin:0 0;">9</div>
<div style="position:absolute;left:963.60px;top:313.25px;font-size:19.30px;font-family:'Liberation Sans',sans-serif;color:#000;white-space:nowrap;line-height:1;-webkit-text-stroke:0.15px #000;transform:scaleX(0.8200);transform-origin:0 0;">3</div>
<div style="position:absolute;left:973.66px;top:313.25px;font-size:19.30px;font-family:'Liberation Sans',sans-serif;color:#000;white-space:nowrap;line-height:1;-webkit-text-stroke:0.15px #000;transform:scaleX(0.8200);transform-origin:0 0;">.</div>
<div style="position:absolute;left:981.60px;top:313.25px;font-size:19.30px;font-family:'Liberation Sans',sans-serif;color:#000;white-space:nowrap;line-height:1;-webkit-text-stroke:0.15px #000;transform:scaleX(0.8200);transform-origin:0 0;">4</div>
<div style="position:absolute;left:989.70px;top:339.15px;font-size:19.30px;font-family:'Liberation Sans',sans-serif;color:#000;white-space:nowrap;line-height:1;-webkit-text-stroke:0.15px #000;transform:scaleX(0.8200);transform-origin:0 0;">0</div>
<div style="position:absolute;left:999.09px;top:339.15px;font-size:19.30px;font-family:'Liberation Sans',sans-serif;color:#000;white-space:nowrap;line-height:1;-webkit-text-stroke:0.15px #000;transform:scaleX(0.8200);transform-origin:0 0;">.</div>
<div style="position:absolute;left:1006.80px;top:339.15px;font-size:19.30px;font-family:'Liberation Sans',sans-serif;color:#000;white-space:nowrap;line-height:1;-webkit-text-stroke:0.15px #000;transform:scaleX(0.8200);transform-origin:0 0;">2</div>
<div style="position:absolute;left:573.50px;top:444.10px;font-size:19.30px;font-family:'Liberation Sans',sans-serif;color:#000;white-space:nowrap;line-height:1;-webkit-text-stroke:0.15px #000;transform:scaleX(0.8200);transform-origin:0 0;">6</div>
<div style="position:absolute;left:584.10px;top:444.10px;font-size:19.30px;font-family:'Liberation Sans',sans-serif;color:#000;white-space:nowrap;line-height:1;-webkit-text-stroke:0.15px #000;transform:scaleX(0.8200);transform-origin:0 0;">4</div>
<div style="position:absolute;left:593.20px;top:444.10px;font-size:19.30px;font-family:'Liberation Sans',sans-serif;color:#000;white-space:nowrap;line-height:1;-webkit-text-stroke:0.15px #000;transform:scaleX(0.8200);transform-origin:0 0;">.</div>
<div style="position:absolute;left:600.70px;top:444.10px;font-size:19.30px;font-family:'Liberation Sans',sans-serif;color:#000;white-space:nowrap;line-height:1;-webkit-text-stroke:0.15px #000;transform:scaleX(0.8200);transform-origin:0 0;">1</div>
<div style="position:absolute;left:779.60px;top:444.10px;font-size:19.30px;font-family:'Liberation Sans',sans-serif;color:#000;white-space:nowrap;line-height:1;-webkit-text-stroke:0.15px #000;transform:scaleX(0.8200);transform-origin:0 0;">5</div>
<div style="position:absolute;left:789.90px;top:444.10px;font-size:19.30px;font-family:'Liberation Sans',sans-serif;color:#000;white-space:nowrap;line-height:1;-webkit-text-stroke:0.15px #000;transform:scaleX(0.8200);transform-origin:0 0;">.</div>
<div style="position:absolute;left:799.10px;top:444.10px;font-size:19.30px;font-family:'Liberation Sans',sans-serif;color:#000;white-space:nowrap;line-height:1;-webkit-text-stroke:0.15px #000;transform:scaleX(0.8200);transform-origin:0 0;">7</div>
<div style="position:absolute;left:875.20px;top:444.10px;font-size:19.30px;font-family:'Liberation Sans',sans-serif;color:#fff;white-space:nowrap;line-height:1;-webkit-text-stroke:0.15px #fff;transform:scaleX(0.8200);transform-origin:0 0;">2</div>
<div style="position:absolute;left:885.70px;top:444.10px;font-size:19.30px;font-family:'Liberation Sans',sans-serif;color:#fff;white-space:nowrap;line-height:1;-webkit-text-stroke:0.15px #fff;transform:scaleX(0.8200);transform-origin:0 0;">8</div>
<div style="position:absolute;left:894.80px;top:444.10px;font-size:19.30px;font-family:'Liberation Sans',sans-serif;color:#fff;white-space:nowrap;line-height:1;-webkit-text-stroke:0.15px #fff;transform:scaleX(0.8200);transform-origin:0 0;">.</div>
<div style="position:absolute;left:902.30px;top:444.10px;font-size:19.30px;font-family:'Liberation Sans',sans-serif;color:#fff;white-space:nowrap;line-height:1;-webkit-text-stroke:0.15px #fff;transform:scaleX(0.8200);transform-origin:0 0;">9</div>
<div style="position:absolute;left:963.50px;top:419.10px;font-size:19.30px;font-family:'Liberation Sans',sans-serif;color:#000;white-space:nowrap;line-height:1;-webkit-text-stroke:0.15px #000;transform:scaleX(0.8200);transform-origin:0 0;">0</div>
<div style="position:absolute;left:973.10px;top:419.10px;font-size:19.30px;font-family:'Liberation Sans',sans-serif;color:#000;white-space:nowrap;line-height:1;-webkit-text-stroke:0.15px #000;transform:scaleX(0.8200);transform-origin:0 0;">.</div>
<div style="position:absolute;left:981.10px;top:419.10px;font-size:19.30px;font-family:'Liberation Sans',sans-serif;color:#000;white-space:nowrap;line-height:1;-webkit-text-stroke:0.15px #000;transform:scaleX(0.8200);transform-origin:0 0;">5</div>
<div style="position:absolute;left:991.40px;top:444.00px;font-size:19.30px;font-family:'Liberation Sans',sans-serif;color:#000;white-space:nowrap;line-height:1;-webkit-text-stroke:0.15px #000;transform:scaleX(0.8200);transform-origin:0 0;">0</div>
<div style="position:absolute;left:1001.00px;top:444.00px;font-size:19.30px;font-family:'Liberation Sans',sans-serif;color:#000;white-space:nowrap;line-height:1;-webkit-text-stroke:0.15px #000;transform:scaleX(0.8200);transform-origin:0 0;">.</div>
<div style="position:absolute;left:1009.00px;top:444.00px;font-size:19.30px;font-family:'Liberation Sans',sans-serif;color:#000;white-space:nowrap;line-height:1;-webkit-text-stroke:0.15px #000;transform:scaleX(0.8200);transform-origin:0 0;">9</div>
<div style="position:absolute;left:645.90px;top:496.25px;font-size:19.30px;font-family:'Liberation Sans',sans-serif;color:#000;white-space:nowrap;line-height:1;-webkit-text-stroke:0.15px #000;transform:scaleX(0.8200);transform-origin:0 0;">8</div>
<div style="position:absolute;left:656.80px;top:496.25px;font-size:19.30px;font-family:'Liberation Sans',sans-serif;color:#000;white-space:nowrap;line-height:1;-webkit-text-stroke:0.15px #000;transform:scaleX(0.8200);transform-origin:0 0;">9</div>
<div style="position:absolute;left:665.90px;top:496.25px;font-size:19.30px;font-family:'Liberation Sans',sans-serif;color:#000;white-space:nowrap;line-height:1;-webkit-text-stroke:0.15px #000;transform:scaleX(0.8200);transform-origin:0 0;">.</div>
<div style="position:absolute;left:673.40px;top:496.25px;font-size:19.30px;font-family:'Liberation Sans',sans-serif;color:#000;white-space:nowrap;line-height:1;-webkit-text-stroke:0.15px #000;transform:scaleX(0.8200);transform-origin:0 0;">1</div>
<div style="position:absolute;left:934.40px;top:496.25px;font-size:19.30px;font-family:'Liberation Sans',sans-serif;color:#000;white-space:nowrap;line-height:1;-webkit-text-stroke:0.15px #000;transform:scaleX(0.8200);transform-origin:0 0;">8</div>
<div style="position:absolute;left:943.98px;top:496.25px;font-size:19.30px;font-family:'Liberation Sans',sans-serif;color:#000;white-space:nowrap;line-height:1;-webkit-text-stroke:0.15px #000;transform:scaleX(0.8200);transform-origin:0 0;">.</div>
<div style="position:absolute;left:952.10px;top:496.25px;font-size:19.30px;font-family:'Liberation Sans',sans-serif;color:#000;white-space:nowrap;line-height:1;-webkit-text-stroke:0.15px #000;transform:scaleX(0.8200);transform-origin:0 0;">9</div>
<div style="position:absolute;left:954.10px;top:472.25px;font-size:19.30px;font-family:'Liberation Sans',sans-serif;color:#000;white-space:nowrap;line-height:1;-webkit-text-stroke:0.15px #000;transform:scaleX(0.8200);transform-origin:0 0;">0</div>
<div style="position:absolute;left:963.37px;top:472.25px;font-size:19.30px;font-family:'Liberation Sans',sans-serif;color:#000;white-space:nowrap;line-height:1;-webkit-text-stroke:0.15px #000;transform:scaleX(0.8200);transform-origin:0 0;">.</div>
<div style="position:absolute;left:970.90px;top:472.25px;font-size:19.30px;font-family:'Liberation Sans',sans-serif;color:#000;white-space:nowrap;line-height:1;-webkit-text-stroke:0.15px #000;transform:scaleX(0.8200);transform-origin:0 0;">7</div>
<div style="position:absolute;left:985.20px;top:472.25px;font-size:19.30px;font-family:'Liberation Sans',sans-serif;color:#000;white-space:nowrap;line-height:1;-webkit-text-stroke:0.15px #000;transform:scaleX(0.8200);transform-origin:0 0;">0</div>
<div style="position:absolute;left:994.72px;top:472.25px;font-size:19.30px;font-family:'Liberation Sans',sans-serif;color:#000;white-space:nowrap;line-height:1;-webkit-text-stroke:0.15px #000;transform:scaleX(0.8200);transform-origin:0 0;">.</div>
<div style="position:absolute;left:1002.60px;top:472.25px;font-size:19.30px;font-family:'Liberation Sans',sans-serif;color:#000;white-space:nowrap;line-height:1;-webkit-text-stroke:0.15px #000;transform:scaleX(0.8200);transform-origin:0 0;">5</div>
<div style="position:absolute;left:991.40px;top:496.25px;font-size:19.30px;font-family:'Liberation Sans',sans-serif;color:#000;white-space:nowrap;line-height:1;-webkit-text-stroke:0.15px #000;transform:scaleX(0.8200);transform-origin:0 0;">0</div>
<div style="position:absolute;left:1001.00px;top:496.25px;font-size:19.30px;font-family:'Liberation Sans',sans-serif;color:#000;white-space:nowrap;line-height:1;-webkit-text-stroke:0.15px #000;transform:scaleX(0.8200);transform-origin:0 0;">.</div>
<div style="position:absolute;left:1009.00px;top:496.25px;font-size:19.30px;font-family:'Liberation Sans',sans-serif;color:#000;white-space:nowrap;line-height:1;-webkit-text-stroke:0.15px #000;transform:scaleX(0.8200);transform-origin:0 0;">9</div>
<div style="position:absolute;left:404.00px;top:544.00px;font-size:16.80px;font-family:'Liberation Sans',sans-serif;color:#000;white-space:nowrap;line-height:1;-webkit-text-stroke:0.3px #000;transform:scaleX(0.7778);transform-origin:0 0;">0</div>
<div style="position:absolute;left:515.00px;top:544.00px;font-size:16.80px;font-family:'Liberation Sans',sans-serif;color:#000;white-space:nowrap;line-height:1;-webkit-text-stroke:0.3px #000;transform:scaleX(0.8684);transform-origin:0 0;">20</div>
<div style="position:absolute;left:630.60px;top:544.00px;font-size:16.80px;font-family:'Liberation Sans',sans-serif;color:#000;white-space:nowrap;line-height:1;-webkit-text-stroke:0.3px #000;transform:scaleX(0.8684);transform-origin:0 0;">40</div>
<div style="position:absolute;left:745.50px;top:544.00px;font-size:16.80px;font-family:'Liberation Sans',sans-serif;color:#000;white-space:nowrap;line-height:1;-webkit-text-stroke:0.3px #000;transform:scaleX(0.9539);transform-origin:0 0;">60</div>
<div style="position:absolute;left:862.10px;top:544.00px;font-size:16.80px;font-family:'Liberation Sans',sans-serif;color:#000;white-space:nowrap;line-height:1;-webkit-text-stroke:0.3px #000;transform:scaleX(0.9009);transform-origin:0 0;">80</div>
<div style="position:absolute;left:974.20px;top:544.00px;font-size:16.80px;font-family:'Liberation Sans',sans-serif;color:#000;white-space:nowrap;line-height:1;-webkit-text-stroke:0.3px #000;transform:scaleX(0.9302);transform-origin:0 0;">100</div>
<div style="position:absolute;left:1005.00px;top:544.00px;font-size:16.80px;font-family:'Liberation Sans',sans-serif;color:#000;white-space:nowrap;line-height:1;-webkit-text-stroke:0.3px #000;transform:scaleX(0.9479);transform-origin:0 0;">%</div>
<div style="position:absolute;left:104.10px;top:619.35px;font-size:15.00px;font-family:'Liberation Sans',sans-serif;color:#000;white-space:nowrap;line-height:1;-webkit-text-stroke:0.3px #000;">定</div>
<div style="position:absolute;left:120.10px;top:619.35px;font-size:15.00px;font-family:'Liberation Sans',sans-serif;color:#000;white-space:nowrap;line-height:1;-webkit-text-stroke:0.3px #000;">期</div>
<div style="position:absolute;left:135.60px;top:619.35px;font-size:15.00px;font-family:'Liberation Sans',sans-serif;color:#000;white-space:nowrap;line-height:1;-webkit-text-stroke:0.3px #000;">的</div>
<div style="position:absolute;left:152.70px;top:619.35px;font-size:15.00px;font-family:'Liberation Sans',sans-serif;color:#000;white-space:nowrap;line-height:1;-webkit-text-stroke:0.3px #000;">、</div>
<div style="position:absolute;left:167.60px;top:619.35px;font-size:15.00px;font-family:'Liberation Sans',sans-serif;color:#000;white-space:nowrap;line-height:1;-webkit-text-stroke:0.3px #000;">か</div>
<div style="position:absolute;left:183.60px;top:619.35px;font-size:15.00px;font-family:'Liberation Sans',sans-serif;color:#000;white-space:nowrap;line-height:1;-webkit-text-stroke:0.3px #000;">つ</div>
<div style="position:absolute;left:199.10px;top:619.35px;font-size:15.00px;font-family:'Liberation Sans',sans-serif;color:#000;white-space:nowrap;line-height:1;-webkit-text-stroke:0.3px #000;">シ</div>
<div style="position:absolute;left:216.10px;top:619.35px;font-size:15.00px;font-family:'Liberation Sans',sans-serif;color:#000;white-space:nowrap;line-height:1;-webkit-text-stroke:0.3px #000;">ス</div>
<div style="position:absolute;left:231.60px;top:619.35px;font-size:15.00px;font-family:'Liberation Sans',sans-serif;color:#000;white-space:nowrap;line-height:1;-webkit-text-stroke:0.3px #000;">テ</div>
<div style="position:absolute;left:247.60px;top:619.35px;font-size:15.00px;font-family:'Liberation Sans',sans-serif;color:#000;white-space:nowrap;line-height:1;-webkit-text-stroke:0.3px #000;">ム</div>
<div style="position:absolute;left:263.60px;top:619.35px;font-size:15.00px;font-family:'Liberation Sans',sans-serif;color:#000;white-space:nowrap;line-height:1;-webkit-text-stroke:0.3px #000;">導</div>
<div style="position:absolute;left:280.10px;top:619.35px;font-size:15.00px;font-family:'Liberation Sans',sans-serif;color:#000;white-space:nowrap;line-height:1;-webkit-text-stroke:0.3px #000;">入</div>
<div style="position:absolute;left:295.10px;top:619.35px;font-size:15.00px;font-family:'Liberation Sans',sans-serif;color:#000;white-space:nowrap;line-height:1;-webkit-text-stroke:0.3px #000;">時</div>
<div style="position:absolute;left:311.60px;top:619.35px;font-size:15.00px;font-family:'Liberation Sans',sans-serif;color:#000;white-space:nowrap;line-height:1;-webkit-text-stroke:0.3px #000;">や</div>
<div style="position:absolute;left:327.10px;top:619.35px;font-size:15.00px;font-family:'Liberation Sans',sans-serif;color:#000;white-space:nowrap;line-height:1;-webkit-text-stroke:0.3px #000;">大</div>
<div style="position:absolute;left:343.60px;top:619.35px;font-size:15.00px;font-family:'Liberation Sans',sans-serif;color:#000;white-space:nowrap;line-height:1;-webkit-text-stroke:0.3px #000;">規</div>
<div style="position:absolute;left:360.10px;top:619.35px;font-size:15.00px;font-family:'Liberation Sans',sans-serif;color:#000;white-space:nowrap;line-height:1;-webkit-text-stroke:0.3px #000;">模</div>
<div style="position:absolute;left:375.60px;top:619.35px;font-size:15.00px;font-family:'Liberation Sans',sans-serif;color:#000;white-space:nowrap;line-height:1;-webkit-text-stroke:0.3px #000;">更</div>
<div style="position:absolute;left:391.60px;top:619.35px;font-size:15.00px;font-family:'Liberation Sans',sans-serif;color:#000;white-space:nowrap;line-height:1;-webkit-text-stroke:0.3px #000;">改</div>
<div style="position:absolute;left:407.10px;top:619.35px;font-size:15.00px;font-family:'Liberation Sans',sans-serif;color:#000;white-space:nowrap;line-height:1;-webkit-text-stroke:0.3px #000;">時</div>
<div style="position:absolute;left:423.60px;top:619.35px;font-size:15.00px;font-family:'Liberation Sans',sans-serif;color:#000;white-space:nowrap;line-height:1;-webkit-text-stroke:0.3px #000;">に</div>
<div style="position:absolute;left:439.10px;top:619.35px;font-size:15.00px;font-family:'Liberation Sans',sans-serif;color:#000;white-space:nowrap;line-height:1;-webkit-text-stroke:0.3px #000;">も</div>
<div style="position:absolute;left:456.10px;top:619.35px;font-size:15.00px;font-family:'Liberation Sans',sans-serif;color:#000;white-space:nowrap;line-height:1;-webkit-text-stroke:0.3px #000;">検</div>
<div style="position:absolute;left:472.10px;top:619.35px;font-size:15.00px;font-family:'Liberation Sans',sans-serif;color:#000;white-space:nowrap;line-height:1;-webkit-text-stroke:0.3px #000;">査</div>
<div style="position:absolute;left:487.10px;top:619.35px;font-size:15.00px;font-family:'Liberation Sans',sans-serif;color:#000;white-space:nowrap;line-height:1;-webkit-text-stroke:0.3px #000;">し</div>
<div style="position:absolute;left:504.60px;top:619.35px;font-size:15.00px;font-family:'Liberation Sans',sans-serif;color:#000;white-space:nowrap;line-height:1;-webkit-text-stroke:0.3px #000;">て</div>
<div style="position:absolute;left:519.60px;top:619.35px;font-size:15.00px;font-family:'Liberation Sans',sans-serif;color:#000;white-space:nowrap;line-height:1;-webkit-text-stroke:0.3px #000;">い</div>
<div style="position:absolute;left:535.60px;top:619.35px;font-size:15.00px;font-family:'Liberation Sans',sans-serif;color:#000;white-space:nowrap;line-height:1;-webkit-text-stroke:0.3px #000;">る</div>
<div style="position:absolute;left:103.10px;top:646.25px;font-size:15.00px;font-family:'Liberation Sans',sans-serif;color:#000;white-space:nowrap;line-height:1;-webkit-text-stroke:0.3px #000;">シ</div>
<div style="position:absolute;left:120.10px;top:646.25px;font-size:15.00px;font-family:'Liberation Sans',sans-serif;color:#000;white-space:nowrap;line-height:1;-webkit-text-stroke:0.3px #000;">ス</div>
<div style="position:absolute;left:135.60px;top:646.25px;font-size:15.00px;font-family:'Liberation Sans',sans-serif;color:#000;white-space:nowrap;line-height:1;-webkit-text-stroke:0.3px #000;">テ</div>
<div style="position:absolute;left:151.60px;top:646.25px;font-size:15.00px;font-family:'Liberation Sans',sans-serif;color:#000;white-space:nowrap;line-height:1;-webkit-text-stroke:0.3px #000;">ム</div>
<div style="position:absolute;left:167.60px;top:646.25px;font-size:15.00px;font-family:'Liberation Sans',sans-serif;color:#000;white-space:nowrap;line-height:1;-webkit-text-stroke:0.3px #000;">導</div>
<div style="position:absolute;left:184.10px;top:646.25px;font-size:15.00px;font-family:'Liberation Sans',sans-serif;color:#000;white-space:nowrap;line-height:1;-webkit-text-stroke:0.3px #000;">入</div>
<div style="position:absolute;left:199.60px;top:646.25px;font-size:15.00px;font-family:'Liberation Sans',sans-serif;color:#000;white-space:nowrap;line-height:1;-webkit-text-stroke:0.3px #000;">ま</div>
<div style="position:absolute;left:215.60px;top:646.25px;font-size:15.00px;font-family:'Liberation Sans',sans-serif;color:#000;white-space:nowrap;line-height:1;-webkit-text-stroke:0.3px #000;">た</div>
<div style="position:absolute;left:231.60px;top:646.25px;font-size:15.00px;font-family:'Liberation Sans',sans-serif;color:#000;white-space:nowrap;line-height:1;-webkit-text-stroke:0.3px #000;">は</div>
<div style="position:absolute;left:247.10px;top:646.25px;font-size:15.00px;font-family:'Liberation Sans',sans-serif;color:#000;white-space:nowrap;line-height:1;-webkit-text-stroke:0.3px #000;">大</div>
<div style="position:absolute;left:263.60px;top:646.25px;font-size:15.00px;font-family:'Liberation Sans',sans-serif;color:#000;white-space:nowrap;line-height:1;-webkit-text-stroke:0.3px #000;">規</div>
<div style="position:absolute;left:280.10px;top:646.25px;font-size:15.00px;font-family:'Liberation Sans',sans-serif;color:#000;white-space:nowrap;line-height:1;-webkit-text-stroke:0.3px #000;">模</div>
<div style="position:absolute;left:295.60px;top:646.25px;font-size:15.00px;font-family:'Liberation Sans',sans-serif;color:#000;white-space:nowrap;line-height:1;-webkit-text-stroke:0.3px #000;">な</div>
<div style="position:absolute;left:311.60px;top:646.25px;font-size:15.00px;font-family:'Liberation Sans',sans-serif;color:#000;white-space:nowrap;line-height:1;-webkit-text-stroke:0.3px #000;">更</div>
<div style="position:absolute;left:327.60px;top:646.25px;font-size:15.00px;font-family:'Liberation Sans',sans-serif;color:#000;white-space:nowrap;line-height:1;-webkit-text-stroke:0.3px #000;">改</div>
<div style="position:absolute;left:343.10px;top:646.25px;font-size:15.00px;font-family:'Liberation Sans',sans-serif;color:#000;white-space:nowrap;line-height:1;-webkit-text-stroke:0.3px #000;">時</div>
<div style="position:absolute;left:359.60px;top:646.25px;font-size:15.00px;font-family:'Liberation Sans',sans-serif;color:#000;white-space:nowrap;line-height:1;-webkit-text-stroke:0.3px #000;">に</div>
<div style="position:absolute;left:376.10px;top:646.25px;font-size:15.00px;font-family:'Liberation Sans',sans-serif;color:#000;white-space:nowrap;line-height:1;-webkit-text-stroke:0.3px #000;">検</div>
<div style="position:absolute;left:392.10px;top:646.25px;font-size:15.00px;font-family:'Liberation Sans',sans-serif;color:#000;white-space:nowrap;line-height:1;-webkit-text-stroke:0.3px #000;">査</div>
<div style="position:absolute;left:407.10px;top:646.25px;font-size:15.00px;font-family:'Liberation Sans',sans-serif;color:#000;white-space:nowrap;line-height:1;-webkit-text-stroke:0.3px #000;">し</div>
<div style="position:absolute;left:424.60px;top:646.25px;font-size:15.00px;font-family:'Liberation Sans',sans-serif;color:#000;white-space:nowrap;line-height:1;-webkit-text-stroke:0.3px #000;">て</div>
<div style="position:absolute;left:439.60px;top:646.25px;font-size:15.00px;font-family:'Liberation Sans',sans-serif;color:#000;white-space:nowrap;line-height:1;-webkit-text-stroke:0.3px #000;">い</div>
<div style="position:absolute;left:455.60px;top:646.25px;font-size:15.00px;font-family:'Liberation Sans',sans-serif;color:#000;white-space:nowrap;line-height:1;-webkit-text-stroke:0.3px #000;">る</div>
<div style="position:absolute;left:104.10px;top:674.25px;font-size:15.00px;font-family:'Liberation Sans',sans-serif;color:#000;white-space:nowrap;line-height:1;-webkit-text-stroke:0.3px #000;">検</div>
<div style="position:absolute;left:120.10px;top:674.25px;font-size:15.00px;font-family:'Liberation Sans',sans-serif;color:#000;white-space:nowrap;line-height:1;-webkit-text-stroke:0.3px #000;">査</div>
<div style="position:absolute;left:135.10px;top:674.25px;font-size:15.00px;font-family:'Liberation Sans',sans-serif;color:#000;white-space:nowrap;line-height:1;-webkit-text-stroke:0.3px #000;">し</div>
<div style="position:absolute;left:152.60px;top:674.25px;font-size:15.00px;font-family:'Liberation Sans',sans-serif;color:#000;white-space:nowrap;line-height:1;-webkit-text-stroke:0.3px #000;">て</div>
<div style="position:absolute;left:167.60px;top:674.25px;font-size:15.00px;font-family:'Liberation Sans',sans-serif;color:#000;white-space:nowrap;line-height:1;-webkit-text-stroke:0.3px #000;">い</div>
<div style="position:absolute;left:183.60px;top:674.25px;font-size:15.00px;font-family:'Liberation Sans',sans-serif;color:#000;white-space:nowrap;line-height:1;-webkit-text-stroke:0.3px #000;">な</div>
<div style="position:absolute;left:199.60px;top:674.25px;font-size:15.00px;font-family:'Liberation Sans',sans-serif;color:#000;white-space:nowrap;line-height:1;-webkit-text-stroke:0.3px #000;">い</div>
<div style="position:absolute;left:586.50px;top:619.45px;font-size:15.00px;font-family:'Liberation Sans',sans-serif;color:#000;white-space:nowrap;line-height:1;-webkit-text-stroke:0.3px #000;">定</div>
<div style="position:absolute;left:602.50px;top:619.45px;font-size:15.00px;font-family:'Liberation Sans',sans-serif;color:#000;white-space:nowrap;line-height:1;-webkit-text-stroke:0.3px #000;">期</div>
<div style="position:absolute;left:618.00px;top:619.45px;font-size:15.00px;font-family:'Liberation Sans',sans-serif;color:#000;white-space:nowrap;line-height:1;-webkit-text-stroke:0.3px #000;">的</div>
<div style="position:absolute;left:634.00px;top:619.45px;font-size:15.00px;font-family:'Liberation Sans',sans-serif;color:#000;white-space:nowrap;line-height:1;-webkit-text-stroke:0.3px #000;">に</div>
<div style="position:absolute;left:650.50px;top:619.45px;font-size:15.00px;font-family:'Liberation Sans',sans-serif;color:#000;white-space:nowrap;line-height:1;-webkit-text-stroke:0.3px #000;">検</div>
<div style="position:absolute;left:666.50px;top:619.45px;font-size:15.00px;font-family:'Liberation Sans',sans-serif;color:#000;white-space:nowrap;line-height:1;-webkit-text-stroke:0.3px #000;">査</div>
<div style="position:absolute;left:681.50px;top:619.45px;font-size:15.00px;font-family:'Liberation Sans',sans-serif;color:#000;white-space:nowrap;line-height:1;-webkit-text-stroke:0.3px #000;">し</div>
<div style="position:absolute;left:699.00px;top:619.45px;font-size:15.00px;font-family:'Liberation Sans',sans-serif;color:#000;white-space:nowrap;line-height:1;-webkit-text-stroke:0.3px #000;">て</div>
<div style="position:absolute;left:714.00px;top:619.45px;font-size:15.00px;font-family:'Liberation Sans',sans-serif;color:#000;white-space:nowrap;line-height:1;-webkit-text-stroke:0.3px #000;">い</div>
<div style="position:absolute;left:730.00px;top:619.45px;font-size:15.00px;font-family:'Liberation Sans',sans-serif;color:#000;white-space:nowrap;line-height:1;-webkit-text-stroke:0.3px #000;">る</div>
<div style="position:absolute;left:586.50px;top:645.85px;font-size:15.00px;font-family:'Liberation Sans',sans-serif;color:#000;white-space:nowrap;line-height:1;-webkit-text-stroke:0.3px #000;">不</div>
<div style="position:absolute;left:602.50px;top:645.85px;font-size:15.00px;font-family:'Liberation Sans',sans-serif;color:#000;white-space:nowrap;line-height:1;-webkit-text-stroke:0.3px #000;">定</div>
<div style="position:absolute;left:618.50px;top:645.85px;font-size:15.00px;font-family:'Liberation Sans',sans-serif;color:#000;white-space:nowrap;line-height:1;-webkit-text-stroke:0.3px #000;">期</div>
<div style="position:absolute;left:634.00px;top:645.85px;font-size:15.00px;font-family:'Liberation Sans',sans-serif;color:#000;white-space:nowrap;line-height:1;-webkit-text-stroke:0.3px #000;">に</div>
<div style="position:absolute;left:650.50px;top:645.85px;font-size:15.00px;font-family:'Liberation Sans',sans-serif;color:#000;white-space:nowrap;line-height:1;-webkit-text-stroke:0.3px #000;">検</div>
<div style="position:absolute;left:666.50px;top:645.85px;font-size:15.00px;font-family:'Liberation Sans',sans-serif;color:#000;white-space:nowrap;line-height:1;-webkit-text-stroke:0.3px #000;">査</div>
<div style="position:absolute;left:681.50px;top:645.85px;font-size:15.00px;font-family:'Liberation Sans',sans-serif;color:#000;white-space:nowrap;line-height:1;-webkit-text-stroke:0.3px #000;">し</div>
<div style="position:absolute;left:699.00px;top:645.85px;font-size:15.00px;font-family:'Liberation Sans',sans-serif;color:#000;white-space:nowrap;line-height:1;-webkit-text-stroke:0.3px #000;">て</div>
<div style="position:absolute;left:714.00px;top:645.85px;font-size:15.00px;font-family:'Liberation Sans',sans-serif;color:#000;white-space:nowrap;line-height:1;-webkit-text-stroke:0.3px #000;">い</div>
<div style="position:absolute;left:730.00px;top:645.85px;font-size:15.00px;font-family:'Liberation Sans',sans-serif;color:#000;white-space:nowrap;line-height:1;-webkit-text-stroke:0.3px #000;">る</div>
<div style="position:absolute;left:741.70px;top:645.85px;font-size:15.00px;font-family:'Liberation Sans',sans-serif;color:#000;white-space:nowrap;line-height:1;-webkit-text-stroke:0.3px #000;">（</div>
<div style="position:absolute;left:755.60px;top:645.85px;font-size:15.00px;font-family:'Liberation Sans',sans-serif;color:#000;white-space:nowrap;line-height:1;-webkit-text-stroke:0.3px #000;">検</div>
<div style="position:absolute;left:771.25px;top:645.85px;font-size:15.00px;font-family:'Liberation Sans',sans-serif;color:#000;white-space:nowrap;line-height:1;-webkit-text-stroke:0.3px #000;">査</div>
<div style="position:absolute;left:786.40px;top:645.85px;font-size:15.00px;font-family:'Liberation Sans',sans-serif;color:#000;white-space:nowrap;line-height:1;-webkit-text-stroke:0.3px #000;">実</div>
<div style="position:absolute;left:802.05px;top:645.85px;font-size:15.00px;font-family:'Liberation Sans',sans-serif;color:#000;white-space:nowrap;line-height:1;-webkit-text-stroke:0.3px #000;">施</div>
<div style="position:absolute;left:817.20px;top:645.85px;font-size:15.00px;font-family:'Liberation Sans',sans-serif;color:#000;white-space:nowrap;line-height:1;-webkit-text-stroke:0.3px #000;">時</div>
<div style="position:absolute;left:833.85px;top:645.85px;font-size:15.00px;font-family:'Liberation Sans',sans-serif;color:#000;white-space:nowrap;line-height:1;-webkit-text-stroke:0.3px #000;">期</div>
<div style="position:absolute;left:849.00px;top:645.85px;font-size:15.00px;font-family:'Liberation Sans',sans-serif;color:#000;white-space:nowrap;line-height:1;-webkit-text-stroke:0.3px #000;">に</div>
<div style="position:absolute;left:864.65px;top:645.85px;font-size:15.00px;font-family:'Liberation Sans',sans-serif;color:#000;white-space:nowrap;line-height:1;-webkit-text-stroke:0.3px #000;">つ</div>
<div style="position:absolute;left:880.30px;top:645.85px;font-size:15.00px;font-family:'Liberation Sans',sans-serif;color:#000;white-space:nowrap;line-height:1;-webkit-text-stroke:0.3px #000;">い</div>
<div style="position:absolute;left:896.95px;top:645.85px;font-size:15.00px;font-family:'Liberation Sans',sans-serif;color:#000;white-space:nowrap;line-height:1;-webkit-text-stroke:0.3px #000;">て</div>
<div style="position:absolute;left:911.60px;top:645.85px;font-size:15.00px;font-family:'Liberation Sans',sans-serif;color:#000;white-space:nowrap;line-height:1;-webkit-text-stroke:0.3px #000;">の</div>
<div style="position:absolute;left:927.25px;top:645.85px;font-size:15.00px;font-family:'Liberation Sans',sans-serif;color:#000;white-space:nowrap;line-height:1;-webkit-text-stroke:0.3px #000;">方</div>
<div style="position:absolute;left:942.90px;top:645.85px;font-size:15.00px;font-family:'Liberation Sans',sans-serif;color:#000;white-space:nowrap;line-height:1;-webkit-text-stroke:0.3px #000;">針</div>
<div style="position:absolute;left:958.55px;top:645.85px;font-size:15.00px;font-family:'Liberation Sans',sans-serif;color:#000;white-space:nowrap;line-height:1;-webkit-text-stroke:0.3px #000;">は</div>
<div style="position:absolute;left:974.20px;top:645.85px;font-size:15.00px;font-family:'Liberation Sans',sans-serif;color:#000;white-space:nowrap;line-height:1;-webkit-text-stroke:0.3px #000;">な</div>
<div style="position:absolute;left:989.85px;top:645.85px;font-size:15.00px;font-family:'Liberation Sans',sans-serif;color:#000;white-space:nowrap;line-height:1;-webkit-text-stroke:0.3px #000;">い</div>
<div style="position:absolute;left:1004.90px;top:645.85px;font-size:15.00px;font-family:'Liberation Sans',sans-serif;color:#000;white-space:nowrap;line-height:1;-webkit-text-stroke:0.3px #000;">）</div>
<div style="position:absolute;left:586.00px;top:673.40px;font-size:15.00px;font-family:'Liberation Sans',sans-serif;color:#000;white-space:nowrap;line-height:1;-webkit-text-stroke:0.3px #000;">回</div>
<div style="position:absolute;left:602.50px;top:673.40px;font-size:15.00px;font-family:'Liberation Sans',sans-serif;color:#000;white-space:nowrap;line-height:1;-webkit-text-stroke:0.3px #000;">答</div>
<div style="position:absolute;left:618.00px;top:673.40px;font-size:15.00px;font-family:'Liberation Sans',sans-serif;color:#000;white-space:nowrap;line-height:1;-webkit-text-stroke:0.3px #000;">な</div>
<div style="position:absolute;left:633.50px;top:673.40px;font-size:15.00px;font-family:'Liberation Sans',sans-serif;color:#000;white-space:nowrap;line-height:1;-webkit-text-stroke:0.3px #000;">し</div>
<div style="position:absolute;left:64.70px;top:729.60px;font-size:13.60px;font-family:'Liberation Sans',sans-serif;color:#000;white-space:nowrap;line-height:1;-webkit-text-stroke:0.25px #000;">（</div>
<div style="position:absolute;left:79.00px;top:729.60px;font-size:13.60px;font-family:'Liberation Sans',sans-serif;color:#000;white-space:nowrap;line-height:1;-webkit-text-stroke:0.25px #000;">注</div>
<div style="position:absolute;left:92.90px;top:729.60px;font-size:13.60px;font-family:'Liberation Sans',sans-serif;color:#000;white-space:nowrap;line-height:1;-webkit-text-stroke:0.25px #000;">）</div>
<div style="position:absolute;left:101.00px;top:729.60px;font-size:13.60px;font-family:'Liberation Sans',sans-serif;color:#000;white-space:nowrap;line-height:1;-webkit-text-stroke:0.25px #000;">診</div>
<div style="position:absolute;left:115.40px;top:729.60px;font-size:13.60px;font-family:'Liberation Sans',sans-serif;color:#000;white-space:nowrap;line-height:1;-webkit-text-stroke:0.25px #000;">断</div>
<div style="position:absolute;left:129.70px;top:729.60px;font-size:13.60px;font-family:'Liberation Sans',sans-serif;color:#000;white-space:nowrap;line-height:1;-webkit-text-stroke:0.25px #000;">等</div>
<div style="position:absolute;left:144.00px;top:729.60px;font-size:13.60px;font-family:'Liberation Sans',sans-serif;color:#000;white-space:nowrap;line-height:1;-webkit-text-stroke:0.25px #000;">の</div>
<div style="position:absolute;left:158.80px;top:729.60px;font-size:13.60px;font-family:'Liberation Sans',sans-serif;color:#000;white-space:nowrap;line-height:1;-webkit-text-stroke:0.25px #000;">実</div>
<div style="position:absolute;left:173.60px;top:729.60px;font-size:13.60px;font-family:'Liberation Sans',sans-serif;color:#000;white-space:nowrap;line-height:1;-webkit-text-stroke:0.25px #000;">施</div>
<div style="position:absolute;left:188.30px;top:729.60px;font-size:13.60px;font-family:'Liberation Sans',sans-serif;color:#000;white-space:nowrap;line-height:1;-webkit-text-stroke:0.25px #000;">に</div>
<div style="position:absolute;left:201.80px;top:729.60px;font-size:13.60px;font-family:'Liberation Sans',sans-serif;color:#000;white-space:nowrap;line-height:1;-webkit-text-stroke:0.25px #000;">は</div>
<div style="position:absolute;left:216.60px;top:729.60px;font-size:13.60px;font-family:'Liberation Sans',sans-serif;color:#000;white-space:nowrap;line-height:1;-webkit-text-stroke:0.25px #000;">、</div>
<div style="position:absolute;left:230.00px;top:729.60px;font-size:13.60px;font-family:'Liberation Sans',sans-serif;color:#000;white-space:nowrap;line-height:1;-webkit-text-stroke:0.25px #000;">外</div>
<div style="position:absolute;left:245.40px;top:729.60px;font-size:13.60px;font-family:'Liberation Sans',sans-serif;color:#000;white-space:nowrap;line-height:1;-webkit-text-stroke:0.25px #000;">部</div>
<div style="position:absolute;left:258.30px;top:729.60px;font-size:13.60px;font-family:'Liberation Sans',sans-serif;color:#000;white-space:nowrap;line-height:1;-webkit-text-stroke:0.25px #000;">に</div>
<div style="position:absolute;left:271.60px;top:729.60px;font-size:13.60px;font-family:'Liberation Sans',sans-serif;color:#000;white-space:nowrap;line-height:1;-webkit-text-stroke:0.25px #000;">シ</div>
<div style="position:absolute;left:286.20px;top:729.60px;font-size:13.60px;font-family:'Liberation Sans',sans-serif;color:#000;white-space:nowrap;line-height:1;-webkit-text-stroke:0.25px #000;">ス</div>
<div style="position:absolute;left:301.20px;top:729.60px;font-size:13.60px;font-family:'Liberation Sans',sans-serif;color:#000;white-space:nowrap;line-height:1;-webkit-text-stroke:0.25px #000;">テ</div>
<div style="position:absolute;left:315.00px;top:729.60px;font-size:13.60px;font-family:'Liberation Sans',sans-serif;color:#000;white-space:nowrap;line-height:1;-webkit-text-stroke:0.25px #000;">ム</div>
<div style="position:absolute;left:330.50px;top:729.60px;font-size:13.60px;font-family:'Liberation Sans',sans-serif;color:#000;white-space:nowrap;line-height:1;-webkit-text-stroke:0.25px #000;">運</div>
<div style="position:absolute;left:344.40px;top:729.60px;font-size:13.60px;font-family:'Liberation Sans',sans-serif;color:#000;white-space:nowrap;line-height:1;-webkit-text-stroke:0.25px #000;">用</div>
<div style="position:absolute;left:358.60px;top:729.60px;font-size:13.60px;font-family:'Liberation Sans',sans-serif;color:#000;white-space:nowrap;line-height:1;-webkit-text-stroke:0.25px #000;">を</div>
<div style="position:absolute;left:373.10px;top:729.60px;font-size:13.60px;font-family:'Liberation Sans',sans-serif;color:#000;white-space:nowrap;line-height:1;-webkit-text-stroke:0.25px #000;">委</div>
<div style="position:absolute;left:388.10px;top:729.60px;font-size:13.60px;font-family:'Liberation Sans',sans-serif;color:#000;white-space:nowrap;line-height:1;-webkit-text-stroke:0.25px #000;">託</div>
<div style="position:absolute;left:399.70px;top:729.60px;font-size:13.60px;font-family:'Liberation Sans',sans-serif;color:#000;white-space:nowrap;line-height:1;-webkit-text-stroke:0.25px #000;">し</div>
<div style="position:absolute;left:415.40px;top:729.60px;font-size:13.60px;font-family:'Liberation Sans',sans-serif;color:#000;white-space:nowrap;line-height:1;-webkit-text-stroke:0.25px #000;">て</div>
<div style="position:absolute;left:427.50px;top:729.60px;font-size:13.60px;font-family:'Liberation Sans',sans-serif;color:#000;white-space:nowrap;line-height:1;-webkit-text-stroke:0.25px #000;">い</div>
<div style="position:absolute;left:440.50px;top:729.60px;font-size:13.60px;font-family:'Liberation Sans',sans-serif;color:#000;white-space:nowrap;line-height:1;-webkit-text-stroke:0.25px #000;">る</div>
<div style="position:absolute;left:454.90px;top:729.60px;font-size:13.60px;font-family:'Liberation Sans',sans-serif;color:#000;white-space:nowrap;line-height:1;-webkit-text-stroke:0.25px #000;">場</div>
<div style="position:absolute;left:469.60px;top:729.60px;font-size:13.60px;font-family:'Liberation Sans',sans-serif;color:#000;white-space:nowrap;line-height:1;-webkit-text-stroke:0.25px #000;">合</div>
<div style="position:absolute;left:484.50px;top:729.60px;font-size:13.60px;font-family:'Liberation Sans',sans-serif;color:#000;white-space:nowrap;line-height:1;-webkit-text-stroke:0.25px #000;">の</div>
<div style="position:absolute;left:499.70px;top:729.60px;font-size:13.60px;font-family:'Liberation Sans',sans-serif;color:#000;white-space:nowrap;line-height:1;-webkit-text-stroke:0.25px #000;">同</div>
<div style="position:absolute;left:514.10px;top:729.60px;font-size:13.60px;font-family:'Liberation Sans',sans-serif;color:#000;white-space:nowrap;line-height:1;-webkit-text-stroke:0.25px #000;">先</div>
<div style="position:absolute;left:528.50px;top:729.60px;font-size:13.60px;font-family:'Liberation Sans',sans-serif;color:#000;white-space:nowrap;line-height:1;-webkit-text-stroke:0.25px #000;">で</div>
<div style="position:absolute;left:543.00px;top:729.60px;font-size:13.60px;font-family:'Liberation Sans',sans-serif;color:#000;white-space:nowrap;line-height:1;-webkit-text-stroke:0.25px #000;">の</div>
<div style="position:absolute;left:558.90px;top:729.60px;font-size:13.60px;font-family:'Liberation Sans',sans-serif;color:#000;white-space:nowrap;line-height:1;-webkit-text-stroke:0.25px #000;">診</div>
<div style="position:absolute;left:573.40px;top:729.60px;font-size:13.60px;font-family:'Liberation Sans',sans-serif;color:#000;white-space:nowrap;line-height:1;-webkit-text-stroke:0.25px #000;">断</div>
<div style="position:absolute;left:587.80px;top:729.60px;font-size:13.60px;font-family:'Liberation Sans',sans-serif;color:#000;white-space:nowrap;line-height:1;-webkit-text-stroke:0.25px #000;">等</div>
<div style="position:absolute;left:602.70px;top:729.60px;font-size:13.60px;font-family:'Liberation Sans',sans-serif;color:#000;white-space:nowrap;line-height:1;-webkit-text-stroke:0.25px #000;">の</div>
<div style="position:absolute;left:618.20px;top:729.60px;font-size:13.60px;font-family:'Liberation Sans',sans-serif;color:#000;white-space:nowrap;line-height:1;-webkit-text-stroke:0.25px #000;">実</div>
<div style="position:absolute;left:633.10px;top:729.60px;font-size:13.60px;font-family:'Liberation Sans',sans-serif;color:#000;white-space:nowrap;line-height:1;-webkit-text-stroke:0.25px #000;">施</div>
<div style="position:absolute;left:647.60px;top:729.60px;font-size:13.60px;font-family:'Liberation Sans',sans-serif;color:#000;white-space:nowrap;line-height:1;-webkit-text-stroke:0.25px #000;">状</div>
<div style="position:absolute;left:662.60px;top:729.60px;font-size:13.60px;font-family:'Liberation Sans',sans-serif;color:#000;white-space:nowrap;line-height:1;-webkit-text-stroke:0.25px #000;">況</div>
<div style="position:absolute;left:677.60px;top:729.60px;font-size:13.60px;font-family:'Liberation Sans',sans-serif;color:#000;white-space:nowrap;line-height:1;-webkit-text-stroke:0.25px #000;">を</div>
<div style="position:absolute;left:691.60px;top:729.60px;font-size:13.60px;font-family:'Liberation Sans',sans-serif;color:#000;white-space:nowrap;line-height:1;-webkit-text-stroke:0.25px #000;">確</div>
<div style="position:absolute;left:705.90px;top:729.60px;font-size:13.60px;font-family:'Liberation Sans',sans-serif;color:#000;white-space:nowrap;line-height:1;-webkit-text-stroke:0.25px #000;">認</div>
<div style="position:absolute;left:718.40px;top:729.60px;font-size:13.60px;font-family:'Liberation Sans',sans-serif;color:#000;white-space:nowrap;line-height:1;-webkit-text-stroke:0.25px #000;">し</div>
<div style="position:absolute;left:732.80px;top:729.60px;font-size:13.60px;font-family:'Liberation Sans',sans-serif;color:#000;white-space:nowrap;line-height:1;-webkit-text-stroke:0.25px #000;">て</div>
<div style="position:absolute;left:745.70px;top:729.60px;font-size:13.60px;font-family:'Liberation Sans',sans-serif;color:#000;white-space:nowrap;line-height:1;-webkit-text-stroke:0.25px #000;">い</div>
<div style="position:absolute;left:760.00px;top:729.60px;font-size:13.60px;font-family:'Liberation Sans',sans-serif;color:#000;white-space:nowrap;line-height:1;-webkit-text-stroke:0.25px #000;">る</div>
<div style="position:absolute;left:774.00px;top:729.60px;font-size:13.60px;font-family:'Liberation Sans',sans-serif;color:#000;white-space:nowrap;line-height:1;-webkit-text-stroke:0.25px #000;">場</div>
<div style="position:absolute;left:788.60px;top:729.60px;font-size:13.60px;font-family:'Liberation Sans',sans-serif;color:#000;white-space:nowrap;line-height:1;-webkit-text-stroke:0.25px #000;">合</div>
<div style="position:absolute;left:802.50px;top:729.60px;font-size:13.60px;font-family:'Liberation Sans',sans-serif;color:#000;white-space:nowrap;line-height:1;-webkit-text-stroke:0.25px #000;">も</div>
<div style="position:absolute;left:816.50px;top:729.60px;font-size:13.60px;font-family:'Liberation Sans',sans-serif;color:#000;white-space:nowrap;line-height:1;-webkit-text-stroke:0.25px #000;">含</div>
<div style="position:absolute;left:829.50px;top:729.60px;font-size:13.60px;font-family:'Liberation Sans',sans-serif;color:#000;white-space:nowrap;line-height:1;-webkit-text-stroke:0.25px #000;">む</div>
<div style="position:absolute;left:845.50px;top:729.60px;font-size:13.60px;font-family:'Liberation Sans',sans-serif;color:#000;white-space:nowrap;line-height:1;-webkit-text-stroke:0.25px #000;">。</div>
</body>
</html>
